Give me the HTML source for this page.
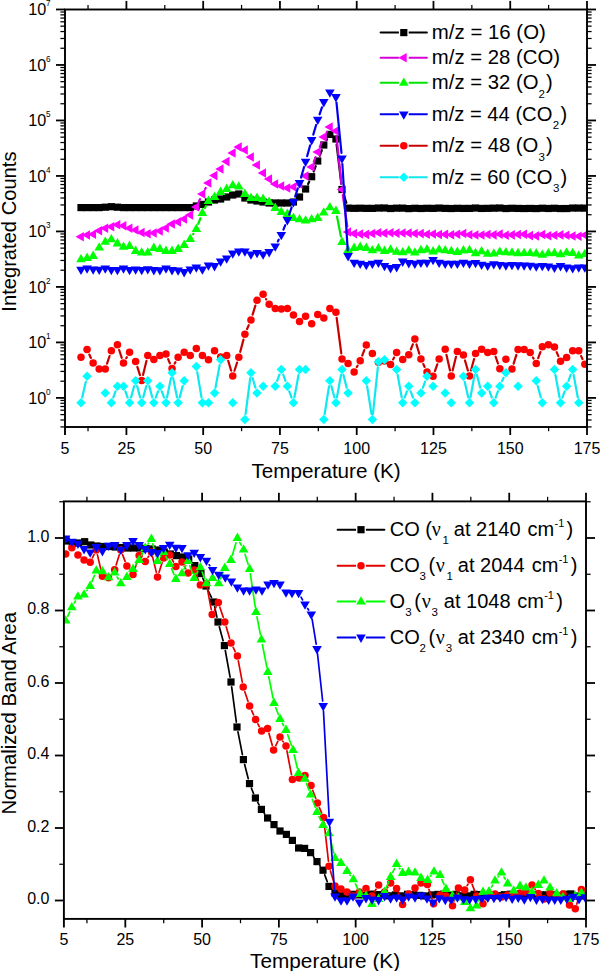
<!DOCTYPE html>
<html><head><meta charset="utf-8"><title>TPD plots</title>
<style>html,body{margin:0;padding:0;background:#fff}svg{display:block}</style>
</head><body>
<svg width="600" height="971" viewBox="0 0 600 971" font-family='"Liberation Sans", sans-serif' fill="#000">
<rect width="600" height="971" fill="#fff"/>
<defs>
<clipPath id="c1"><rect x="65.0" y="9.5" width="522.0" height="417.5"/></clipPath>
<clipPath id="c2"><rect x="63.9" y="501.4" width="522.1" height="417.5"/></clipPath>
</defs>
<g clip-path="url(#c1)">
<path d="M308.07 183.98L309.18 181.72M313.68 171.48L315.71 166.22M319.72 155.76L321.81 150.24M326.58 140.14L327.09 139.26M336.61 144.56L341.34 183.94M343.74 194.82L346.35 202.82" stroke="#000000" stroke-width="2.2" fill="none" stroke-linecap="round"/>
<rect x="77.40" y="204.00" width="7.20" height="7.20" fill="#000000"/>
<rect x="83.47" y="204.00" width="7.20" height="7.20" fill="#000000"/>
<rect x="89.54" y="204.00" width="7.20" height="7.20" fill="#000000"/>
<rect x="95.61" y="204.00" width="7.20" height="7.20" fill="#000000"/>
<rect x="101.68" y="203.60" width="7.20" height="7.20" fill="#000000"/>
<rect x="107.75" y="203.10" width="7.20" height="7.20" fill="#000000"/>
<rect x="113.82" y="203.60" width="7.20" height="7.20" fill="#000000"/>
<rect x="119.89" y="204.00" width="7.20" height="7.20" fill="#000000"/>
<rect x="125.96" y="204.00" width="7.20" height="7.20" fill="#000000"/>
<rect x="132.03" y="204.00" width="7.20" height="7.20" fill="#000000"/>
<rect x="138.10" y="204.00" width="7.20" height="7.20" fill="#000000"/>
<rect x="144.17" y="204.00" width="7.20" height="7.20" fill="#000000"/>
<rect x="150.24" y="204.00" width="7.20" height="7.20" fill="#000000"/>
<rect x="156.31" y="204.00" width="7.20" height="7.20" fill="#000000"/>
<rect x="162.38" y="204.00" width="7.20" height="7.20" fill="#000000"/>
<rect x="168.45" y="204.00" width="7.20" height="7.20" fill="#000000"/>
<rect x="174.52" y="204.00" width="7.20" height="7.20" fill="#000000"/>
<rect x="180.59" y="204.00" width="7.20" height="7.20" fill="#000000"/>
<rect x="186.66" y="204.00" width="7.20" height="7.20" fill="#000000"/>
<rect x="192.73" y="202.40" width="7.20" height="7.20" fill="#000000"/>
<rect x="198.80" y="200.80" width="7.20" height="7.20" fill="#000000"/>
<rect x="204.87" y="198.40" width="7.20" height="7.20" fill="#000000"/>
<rect x="210.94" y="196.40" width="7.20" height="7.20" fill="#000000"/>
<rect x="217.01" y="195.40" width="7.20" height="7.20" fill="#000000"/>
<rect x="223.08" y="193.40" width="7.20" height="7.20" fill="#000000"/>
<rect x="229.15" y="191.40" width="7.20" height="7.20" fill="#000000"/>
<rect x="235.22" y="190.40" width="7.20" height="7.20" fill="#000000"/>
<rect x="241.29" y="194.40" width="7.20" height="7.20" fill="#000000"/>
<rect x="247.36" y="196.40" width="7.20" height="7.20" fill="#000000"/>
<rect x="253.43" y="197.40" width="7.20" height="7.20" fill="#000000"/>
<rect x="259.50" y="198.40" width="7.20" height="7.20" fill="#000000"/>
<rect x="265.57" y="199.40" width="7.20" height="7.20" fill="#000000"/>
<rect x="271.64" y="199.40" width="7.20" height="7.20" fill="#000000"/>
<rect x="277.71" y="199.40" width="7.20" height="7.20" fill="#000000"/>
<rect x="283.78" y="199.40" width="7.20" height="7.20" fill="#000000"/>
<rect x="289.85" y="198.40" width="7.20" height="7.20" fill="#000000"/>
<rect x="295.92" y="193.40" width="7.20" height="7.20" fill="#000000"/>
<rect x="301.99" y="185.40" width="7.20" height="7.20" fill="#000000"/>
<rect x="308.06" y="173.10" width="7.20" height="7.20" fill="#000000"/>
<rect x="314.13" y="157.40" width="7.20" height="7.20" fill="#000000"/>
<rect x="320.20" y="141.40" width="7.20" height="7.20" fill="#000000"/>
<rect x="326.27" y="130.80" width="7.20" height="7.20" fill="#000000"/>
<rect x="332.34" y="135.40" width="7.20" height="7.20" fill="#000000"/>
<rect x="338.41" y="185.90" width="7.20" height="7.20" fill="#000000"/>
<rect x="344.48" y="204.54" width="7.20" height="7.20" fill="#000000"/>
<rect x="350.55" y="204.73" width="7.20" height="7.20" fill="#000000"/>
<rect x="356.62" y="204.62" width="7.20" height="7.20" fill="#000000"/>
<rect x="362.69" y="204.76" width="7.20" height="7.20" fill="#000000"/>
<rect x="368.76" y="204.78" width="7.20" height="7.20" fill="#000000"/>
<rect x="374.83" y="204.44" width="7.20" height="7.20" fill="#000000"/>
<rect x="380.90" y="204.41" width="7.20" height="7.20" fill="#000000"/>
<rect x="386.97" y="204.90" width="7.20" height="7.20" fill="#000000"/>
<rect x="393.04" y="204.56" width="7.20" height="7.20" fill="#000000"/>
<rect x="399.11" y="204.54" width="7.20" height="7.20" fill="#000000"/>
<rect x="405.18" y="205.00" width="7.20" height="7.20" fill="#000000"/>
<rect x="411.25" y="204.68" width="7.20" height="7.20" fill="#000000"/>
<rect x="417.32" y="204.90" width="7.20" height="7.20" fill="#000000"/>
<rect x="423.39" y="204.69" width="7.20" height="7.20" fill="#000000"/>
<rect x="429.46" y="204.78" width="7.20" height="7.20" fill="#000000"/>
<rect x="435.53" y="204.49" width="7.20" height="7.20" fill="#000000"/>
<rect x="441.60" y="204.78" width="7.20" height="7.20" fill="#000000"/>
<rect x="447.67" y="204.92" width="7.20" height="7.20" fill="#000000"/>
<rect x="453.74" y="204.71" width="7.20" height="7.20" fill="#000000"/>
<rect x="459.81" y="204.84" width="7.20" height="7.20" fill="#000000"/>
<rect x="465.88" y="204.80" width="7.20" height="7.20" fill="#000000"/>
<rect x="471.95" y="204.44" width="7.20" height="7.20" fill="#000000"/>
<rect x="478.02" y="204.85" width="7.20" height="7.20" fill="#000000"/>
<rect x="484.09" y="204.75" width="7.20" height="7.20" fill="#000000"/>
<rect x="490.16" y="204.58" width="7.20" height="7.20" fill="#000000"/>
<rect x="496.23" y="204.42" width="7.20" height="7.20" fill="#000000"/>
<rect x="502.30" y="204.92" width="7.20" height="7.20" fill="#000000"/>
<rect x="508.37" y="204.68" width="7.20" height="7.20" fill="#000000"/>
<rect x="514.44" y="204.83" width="7.20" height="7.20" fill="#000000"/>
<rect x="520.51" y="204.93" width="7.20" height="7.20" fill="#000000"/>
<rect x="526.58" y="204.83" width="7.20" height="7.20" fill="#000000"/>
<rect x="532.65" y="204.95" width="7.20" height="7.20" fill="#000000"/>
<rect x="538.72" y="204.64" width="7.20" height="7.20" fill="#000000"/>
<rect x="544.79" y="204.88" width="7.20" height="7.20" fill="#000000"/>
<rect x="550.86" y="204.67" width="7.20" height="7.20" fill="#000000"/>
<rect x="556.93" y="204.96" width="7.20" height="7.20" fill="#000000"/>
<rect x="563.00" y="204.93" width="7.20" height="7.20" fill="#000000"/>
<rect x="569.07" y="204.46" width="7.20" height="7.20" fill="#000000"/>
<rect x="575.14" y="204.48" width="7.20" height="7.20" fill="#000000"/>
<rect x="581.21" y="204.53" width="7.20" height="7.20" fill="#000000"/>
<path d="M198.70 201.93L200.03 199.07M205.11 189.10L205.76 187.90M313.76 161.81L315.63 157.19M319.83 146.81L321.70 142.19M326.71 132.21L326.96 131.79M336.52 136.57L341.43 183.93M342.80 195.04L347.29 226.46" stroke="#d800d8" stroke-width="2.2" fill="none" stroke-linecap="round"/>
<polygon points="83.90,231.90 83.90,241.50 75.60,236.70" fill="#ff00ff"/>
<polygon points="89.97,230.20 89.97,239.80 81.67,235.00" fill="#ff00ff"/>
<polygon points="96.04,229.40 96.04,239.00 87.74,234.20" fill="#ff00ff"/>
<polygon points="102.11,226.00 102.11,235.60 93.81,230.80" fill="#ff00ff"/>
<polygon points="108.18,223.50 108.18,233.10 99.88,228.30" fill="#ff00ff"/>
<polygon points="114.25,221.90 114.25,231.50 105.95,226.70" fill="#ff00ff"/>
<polygon points="120.32,219.90 120.32,229.50 112.02,224.70" fill="#ff00ff"/>
<polygon points="126.39,221.00 126.39,230.60 118.09,225.80" fill="#ff00ff"/>
<polygon points="132.46,223.50 132.46,233.10 124.16,228.30" fill="#ff00ff"/>
<polygon points="138.53,225.20 138.53,234.80 130.23,230.00" fill="#ff00ff"/>
<polygon points="144.60,227.70 144.60,237.30 136.30,232.50" fill="#ff00ff"/>
<polygon points="150.67,228.90 150.67,238.50 142.37,233.70" fill="#ff00ff"/>
<polygon points="156.74,228.20 156.74,237.80 148.44,233.00" fill="#ff00ff"/>
<polygon points="162.81,226.20 162.81,235.80 154.51,231.00" fill="#ff00ff"/>
<polygon points="168.88,223.20 168.88,232.80 160.58,228.00" fill="#ff00ff"/>
<polygon points="174.95,219.20 174.95,228.80 166.65,224.00" fill="#ff00ff"/>
<polygon points="181.02,217.20 181.02,226.80 172.72,222.00" fill="#ff00ff"/>
<polygon points="187.09,214.20 187.09,223.80 178.79,219.00" fill="#ff00ff"/>
<polygon points="193.16,210.20 193.16,219.80 184.86,215.00" fill="#ff00ff"/>
<polygon points="199.23,202.20 199.23,211.80 190.93,207.00" fill="#ff00ff"/>
<polygon points="205.30,189.20 205.30,198.80 197.00,194.00" fill="#ff00ff"/>
<polygon points="211.37,178.20 211.37,187.80 203.07,183.00" fill="#ff00ff"/>
<polygon points="217.44,170.80 217.44,180.40 209.14,175.60" fill="#ff00ff"/>
<polygon points="223.51,164.20 223.51,173.80 215.21,169.00" fill="#ff00ff"/>
<polygon points="229.58,156.80 229.58,166.40 221.28,161.60" fill="#ff00ff"/>
<polygon points="235.65,148.20 235.65,157.80 227.35,153.00" fill="#ff00ff"/>
<polygon points="241.72,142.20 241.72,151.80 233.42,147.00" fill="#ff00ff"/>
<polygon points="247.79,145.20 247.79,154.80 239.49,150.00" fill="#ff00ff"/>
<polygon points="253.86,152.20 253.86,161.80 245.56,157.00" fill="#ff00ff"/>
<polygon points="259.93,160.20 259.93,169.80 251.63,165.00" fill="#ff00ff"/>
<polygon points="266.00,168.20 266.00,177.80 257.70,173.00" fill="#ff00ff"/>
<polygon points="272.07,174.20 272.07,183.80 263.77,179.00" fill="#ff00ff"/>
<polygon points="278.14,179.20 278.14,188.80 269.84,184.00" fill="#ff00ff"/>
<polygon points="284.21,181.20 284.21,190.80 275.91,186.00" fill="#ff00ff"/>
<polygon points="290.28,183.20 290.28,192.80 281.98,188.00" fill="#ff00ff"/>
<polygon points="296.35,182.20 296.35,191.80 288.05,187.00" fill="#ff00ff"/>
<polygon points="302.42,179.20 302.42,188.80 294.12,184.00" fill="#ff00ff"/>
<polygon points="308.49,171.20 308.49,180.80 300.19,176.00" fill="#ff00ff"/>
<polygon points="314.56,162.20 314.56,171.80 306.26,167.00" fill="#ff00ff"/>
<polygon points="320.63,147.20 320.63,156.80 312.33,152.00" fill="#ff00ff"/>
<polygon points="326.70,132.20 326.70,141.80 318.40,137.00" fill="#ff00ff"/>
<polygon points="332.77,122.20 332.77,131.80 324.47,127.00" fill="#ff00ff"/>
<polygon points="338.84,126.20 338.84,135.80 330.54,131.00" fill="#ff00ff"/>
<polygon points="344.91,184.70 344.91,194.30 336.61,189.50" fill="#ff00ff"/>
<polygon points="350.98,227.20 350.98,236.80 342.68,232.00" fill="#ff00ff"/>
<polygon points="357.05,228.80 357.05,238.40 348.75,233.60" fill="#ff00ff"/>
<polygon points="363.12,229.20 363.12,238.80 354.82,234.00" fill="#ff00ff"/>
<polygon points="369.19,229.60 369.19,239.20 360.89,234.40" fill="#ff00ff"/>
<polygon points="375.26,228.74 375.26,238.34 366.96,233.54" fill="#ff00ff"/>
<polygon points="381.33,227.98 381.33,237.58 373.03,232.78" fill="#ff00ff"/>
<polygon points="387.40,228.37 387.40,237.97 379.10,233.17" fill="#ff00ff"/>
<polygon points="393.47,227.94 393.47,237.54 385.17,232.74" fill="#ff00ff"/>
<polygon points="399.54,228.35 399.54,237.95 391.24,233.15" fill="#ff00ff"/>
<polygon points="405.61,228.25 405.61,237.85 397.31,233.05" fill="#ff00ff"/>
<polygon points="411.68,228.28 411.68,237.88 403.38,233.08" fill="#ff00ff"/>
<polygon points="417.75,228.74 417.75,238.34 409.45,233.54" fill="#ff00ff"/>
<polygon points="423.82,228.82 423.82,238.42 415.52,233.62" fill="#ff00ff"/>
<polygon points="429.89,229.42 429.89,239.02 421.59,234.22" fill="#ff00ff"/>
<polygon points="435.96,229.15 435.96,238.75 427.66,233.95" fill="#ff00ff"/>
<polygon points="442.03,229.63 442.03,239.23 433.73,234.43" fill="#ff00ff"/>
<polygon points="448.10,229.60 448.10,239.20 439.80,234.40" fill="#ff00ff"/>
<polygon points="454.17,229.90 454.17,239.50 445.87,234.70" fill="#ff00ff"/>
<polygon points="460.24,229.47 460.24,239.07 451.94,234.27" fill="#ff00ff"/>
<polygon points="466.31,228.75 466.31,238.35 458.01,233.55" fill="#ff00ff"/>
<polygon points="472.38,229.95 472.38,239.55 464.08,234.75" fill="#ff00ff"/>
<polygon points="478.45,230.20 478.45,239.80 470.15,235.00" fill="#ff00ff"/>
<polygon points="484.52,230.19 484.52,239.79 476.22,234.99" fill="#ff00ff"/>
<polygon points="490.59,229.74 490.59,239.34 482.29,234.54" fill="#ff00ff"/>
<polygon points="496.66,230.06 496.66,239.66 488.36,234.86" fill="#ff00ff"/>
<polygon points="502.73,229.34 502.73,238.94 494.43,234.14" fill="#ff00ff"/>
<polygon points="508.80,230.42 508.80,240.02 500.50,235.22" fill="#ff00ff"/>
<polygon points="514.87,230.09 514.87,239.69 506.57,234.89" fill="#ff00ff"/>
<polygon points="520.94,229.71 520.94,239.31 512.64,234.51" fill="#ff00ff"/>
<polygon points="527.01,229.44 527.01,239.04 518.71,234.24" fill="#ff00ff"/>
<polygon points="533.08,230.79 533.08,240.39 524.78,235.59" fill="#ff00ff"/>
<polygon points="539.15,231.10 539.15,240.70 530.85,235.90" fill="#ff00ff"/>
<polygon points="545.22,229.74 545.22,239.34 536.92,234.54" fill="#ff00ff"/>
<polygon points="551.29,230.97 551.29,240.57 542.99,235.77" fill="#ff00ff"/>
<polygon points="557.36,230.43 557.36,240.03 549.06,235.23" fill="#ff00ff"/>
<polygon points="563.43,230.10 563.43,239.70 555.13,234.90" fill="#ff00ff"/>
<polygon points="569.50,230.41 569.50,240.01 561.20,235.21" fill="#ff00ff"/>
<polygon points="575.57,231.26 575.57,240.86 567.27,236.06" fill="#ff00ff"/>
<polygon points="581.64,231.51 581.64,241.11 573.34,236.31" fill="#ff00ff"/>
<polygon points="587.71,230.27 587.71,239.87 579.41,235.07" fill="#ff00ff"/>
<path d="M193.17 234.21L193.42 233.79M198.32 223.76L200.41 218.24M204.93 208.00L205.94 206.00M337.02 216.50L340.93 236.50" stroke="#00e600" stroke-width="2.2" fill="none" stroke-linecap="round"/>
<polygon points="76.20,262.20 85.80,262.20 81.00,253.90" fill="#00ff00"/>
<polygon points="82.27,260.90 91.87,260.90 87.07,252.60" fill="#00ff00"/>
<polygon points="88.34,258.90 97.94,258.90 93.14,250.60" fill="#00ff00"/>
<polygon points="94.41,250.60 104.01,250.60 99.21,242.30" fill="#00ff00"/>
<polygon points="100.48,244.70 110.08,244.70 105.28,236.40" fill="#00ff00"/>
<polygon points="106.55,242.20 116.15,242.20 111.35,233.90" fill="#00ff00"/>
<polygon points="112.62,246.40 122.22,246.40 117.42,238.10" fill="#00ff00"/>
<polygon points="118.69,249.70 128.29,249.70 123.49,241.40" fill="#00ff00"/>
<polygon points="124.76,248.90 134.36,248.90 129.56,240.60" fill="#00ff00"/>
<polygon points="130.83,253.90 140.43,253.90 135.63,245.60" fill="#00ff00"/>
<polygon points="136.90,255.60 146.50,255.60 141.70,247.30" fill="#00ff00"/>
<polygon points="142.97,255.60 152.57,255.60 147.77,247.30" fill="#00ff00"/>
<polygon points="149.04,250.90 158.64,250.90 153.84,242.60" fill="#00ff00"/>
<polygon points="155.11,251.90 164.71,251.90 159.91,243.60" fill="#00ff00"/>
<polygon points="161.18,253.90 170.78,253.90 165.98,245.60" fill="#00ff00"/>
<polygon points="167.25,253.90 176.85,253.90 172.05,245.60" fill="#00ff00"/>
<polygon points="173.32,251.90 182.92,251.90 178.12,243.60" fill="#00ff00"/>
<polygon points="179.39,247.90 188.99,247.90 184.19,239.60" fill="#00ff00"/>
<polygon points="185.46,241.90 195.06,241.90 190.26,233.60" fill="#00ff00"/>
<polygon points="191.53,231.90 201.13,231.90 196.33,223.60" fill="#00ff00"/>
<polygon points="197.60,215.90 207.20,215.90 202.40,207.60" fill="#00ff00"/>
<polygon points="203.67,203.90 213.27,203.90 208.47,195.60" fill="#00ff00"/>
<polygon points="209.74,199.90 219.34,199.90 214.54,191.60" fill="#00ff00"/>
<polygon points="215.81,194.90 225.41,194.90 220.61,186.60" fill="#00ff00"/>
<polygon points="221.88,191.90 231.48,191.90 226.68,183.60" fill="#00ff00"/>
<polygon points="227.95,188.30 237.55,188.30 232.75,180.00" fill="#00ff00"/>
<polygon points="234.02,189.50 243.62,189.50 238.82,181.20" fill="#00ff00"/>
<polygon points="240.09,196.90 249.69,196.90 244.89,188.60" fill="#00ff00"/>
<polygon points="246.16,200.90 255.76,200.90 250.96,192.60" fill="#00ff00"/>
<polygon points="252.23,200.90 261.83,200.90 257.03,192.60" fill="#00ff00"/>
<polygon points="258.30,201.90 267.90,201.90 263.10,193.60" fill="#00ff00"/>
<polygon points="264.37,204.90 273.97,204.90 269.17,196.60" fill="#00ff00"/>
<polygon points="270.44,210.90 280.04,210.90 275.24,202.60" fill="#00ff00"/>
<polygon points="276.51,214.90 286.11,214.90 281.31,206.60" fill="#00ff00"/>
<polygon points="282.58,216.90 292.18,216.90 287.38,208.60" fill="#00ff00"/>
<polygon points="288.65,220.90 298.25,220.90 293.45,212.60" fill="#00ff00"/>
<polygon points="294.72,222.30 304.32,222.30 299.52,214.00" fill="#00ff00"/>
<polygon points="300.79,223.50 310.39,223.50 305.59,215.20" fill="#00ff00"/>
<polygon points="306.86,222.30 316.46,222.30 311.66,214.00" fill="#00ff00"/>
<polygon points="312.93,220.90 322.53,220.90 317.73,212.60" fill="#00ff00"/>
<polygon points="319.00,215.50 328.60,215.50 323.80,207.20" fill="#00ff00"/>
<polygon points="325.07,210.30 334.67,210.30 329.87,202.00" fill="#00ff00"/>
<polygon points="331.14,213.90 340.74,213.90 335.94,205.60" fill="#00ff00"/>
<polygon points="337.21,244.90 346.81,244.90 342.01,236.60" fill="#00ff00"/>
<polygon points="343.28,252.90 352.88,252.90 348.08,244.60" fill="#00ff00"/>
<polygon points="349.35,250.90 358.95,250.90 354.15,242.60" fill="#00ff00"/>
<polygon points="355.42,249.90 365.02,249.90 360.22,241.60" fill="#00ff00"/>
<polygon points="361.49,250.90 371.09,250.90 366.29,242.60" fill="#00ff00"/>
<polygon points="367.56,253.31 377.16,253.31 372.36,245.01" fill="#00ff00"/>
<polygon points="373.63,251.38 383.23,251.38 378.43,243.08" fill="#00ff00"/>
<polygon points="379.70,253.91 389.30,253.91 384.50,245.61" fill="#00ff00"/>
<polygon points="385.77,252.63 395.37,252.63 390.57,244.33" fill="#00ff00"/>
<polygon points="391.84,254.73 401.44,254.73 396.64,246.43" fill="#00ff00"/>
<polygon points="397.91,255.20 407.51,255.20 402.71,246.90" fill="#00ff00"/>
<polygon points="403.98,253.61 413.58,253.61 408.78,245.31" fill="#00ff00"/>
<polygon points="410.05,255.49 419.65,255.49 414.85,247.19" fill="#00ff00"/>
<polygon points="416.12,253.13 425.72,253.13 420.92,244.83" fill="#00ff00"/>
<polygon points="422.19,252.41 431.79,252.41 426.99,244.11" fill="#00ff00"/>
<polygon points="428.26,254.40 437.86,254.40 433.06,246.10" fill="#00ff00"/>
<polygon points="434.33,252.47 443.93,252.47 439.13,244.17" fill="#00ff00"/>
<polygon points="440.40,253.18 450.00,253.18 445.20,244.88" fill="#00ff00"/>
<polygon points="446.47,254.05 456.07,254.05 451.27,245.75" fill="#00ff00"/>
<polygon points="452.54,254.90 462.14,254.90 457.34,246.60" fill="#00ff00"/>
<polygon points="458.61,253.38 468.21,253.38 463.41,245.08" fill="#00ff00"/>
<polygon points="464.68,253.08 474.28,253.08 469.48,244.78" fill="#00ff00"/>
<polygon points="470.75,256.17 480.35,256.17 475.55,247.87" fill="#00ff00"/>
<polygon points="476.82,254.29 486.42,254.29 481.62,245.99" fill="#00ff00"/>
<polygon points="482.89,256.72 492.49,256.72 487.69,248.42" fill="#00ff00"/>
<polygon points="488.96,256.61 498.56,256.61 493.76,248.31" fill="#00ff00"/>
<polygon points="495.03,254.86 504.63,254.86 499.83,246.56" fill="#00ff00"/>
<polygon points="501.10,255.27 510.70,255.27 505.90,246.97" fill="#00ff00"/>
<polygon points="507.17,255.60 516.77,255.60 511.97,247.30" fill="#00ff00"/>
<polygon points="513.24,256.16 522.84,256.16 518.04,247.86" fill="#00ff00"/>
<polygon points="519.31,256.10 528.91,256.10 524.11,247.80" fill="#00ff00"/>
<polygon points="525.38,256.08 534.98,256.08 530.18,247.78" fill="#00ff00"/>
<polygon points="531.45,256.42 541.05,256.42 536.25,248.12" fill="#00ff00"/>
<polygon points="537.52,257.69 547.12,257.69 542.32,249.39" fill="#00ff00"/>
<polygon points="543.59,256.24 553.19,256.24 548.39,247.94" fill="#00ff00"/>
<polygon points="549.66,256.08 559.26,256.08 554.46,247.78" fill="#00ff00"/>
<polygon points="555.73,257.24 565.33,257.24 560.53,248.94" fill="#00ff00"/>
<polygon points="561.80,255.61 571.40,255.61 566.60,247.31" fill="#00ff00"/>
<polygon points="567.87,255.96 577.47,255.96 572.67,247.66" fill="#00ff00"/>
<polygon points="573.94,258.51 583.54,258.51 578.74,250.21" fill="#00ff00"/>
<polygon points="580.01,256.98 589.61,256.98 584.81,248.68" fill="#00ff00"/>
<path d="M277.84 241.44L278.71 239.76M283.43 229.62L285.26 225.18M289.17 214.69L291.66 207.31M295.15 196.67L297.82 188.33M301.05 177.61L304.06 166.99M307.11 156.21L310.14 145.39M313.26 134.63L316.13 124.97M319.56 114.31L321.97 107.29M336.49 102.57L341.46 152.83M342.36 163.99L347.73 250.41" stroke="#0000ee" stroke-width="2.2" fill="none" stroke-linecap="round"/>
<polygon points="76.20,266.72 85.80,266.72 81.00,275.02" fill="#0000ff"/>
<polygon points="82.27,265.43 91.87,265.43 87.07,273.73" fill="#0000ff"/>
<polygon points="88.34,266.40 97.94,266.40 93.14,274.70" fill="#0000ff"/>
<polygon points="94.41,266.79 104.01,266.79 99.21,275.09" fill="#0000ff"/>
<polygon points="100.48,265.45 110.08,265.45 105.28,273.75" fill="#0000ff"/>
<polygon points="106.55,266.88 116.15,266.88 111.35,275.18" fill="#0000ff"/>
<polygon points="112.62,266.92 122.22,266.92 117.42,275.22" fill="#0000ff"/>
<polygon points="118.69,265.54 128.29,265.54 123.49,273.84" fill="#0000ff"/>
<polygon points="124.76,266.91 134.36,266.91 129.56,275.21" fill="#0000ff"/>
<polygon points="130.83,266.52 140.43,266.52 135.63,274.82" fill="#0000ff"/>
<polygon points="136.90,267.03 146.50,267.03 141.70,275.33" fill="#0000ff"/>
<polygon points="142.97,266.25 152.57,266.25 147.77,274.55" fill="#0000ff"/>
<polygon points="149.04,267.10 158.64,267.10 153.84,275.40" fill="#0000ff"/>
<polygon points="155.11,267.17 164.71,267.17 159.91,275.47" fill="#0000ff"/>
<polygon points="161.18,265.45 170.78,265.45 165.98,273.75" fill="#0000ff"/>
<polygon points="167.25,267.10 176.85,267.10 172.05,275.40" fill="#0000ff"/>
<polygon points="173.32,267.50 182.92,267.50 178.12,275.80" fill="#0000ff"/>
<polygon points="179.39,269.10 188.99,269.10 184.19,277.40" fill="#0000ff"/>
<polygon points="185.46,266.50 195.06,266.50 190.26,274.80" fill="#0000ff"/>
<polygon points="191.53,264.50 201.13,264.50 196.33,272.80" fill="#0000ff"/>
<polygon points="197.60,266.50 207.20,266.50 202.40,274.80" fill="#0000ff"/>
<polygon points="203.67,262.50 213.27,262.50 208.47,270.80" fill="#0000ff"/>
<polygon points="209.74,263.10 219.34,263.10 214.54,271.40" fill="#0000ff"/>
<polygon points="215.81,258.50 225.41,258.50 220.61,266.80" fill="#0000ff"/>
<polygon points="221.88,255.50 231.48,255.50 226.68,263.80" fill="#0000ff"/>
<polygon points="227.95,250.50 237.55,250.50 232.75,258.80" fill="#0000ff"/>
<polygon points="234.02,248.50 243.62,248.50 238.82,256.80" fill="#0000ff"/>
<polygon points="240.09,248.50 249.69,248.50 244.89,256.80" fill="#0000ff"/>
<polygon points="246.16,251.50 255.76,251.50 250.96,259.80" fill="#0000ff"/>
<polygon points="252.23,249.90 261.83,249.90 257.03,258.20" fill="#0000ff"/>
<polygon points="258.30,251.50 267.90,251.50 263.10,259.80" fill="#0000ff"/>
<polygon points="264.37,249.10 273.97,249.10 269.17,257.40" fill="#0000ff"/>
<polygon points="270.44,243.50 280.04,243.50 275.24,251.80" fill="#0000ff"/>
<polygon points="276.51,231.90 286.11,231.90 281.31,240.20" fill="#0000ff"/>
<polygon points="282.58,217.10 292.18,217.10 287.38,225.40" fill="#0000ff"/>
<polygon points="288.65,199.10 298.25,199.10 293.45,207.40" fill="#0000ff"/>
<polygon points="294.72,180.10 304.32,180.10 299.52,188.40" fill="#0000ff"/>
<polygon points="300.79,158.70 310.39,158.70 305.59,167.00" fill="#0000ff"/>
<polygon points="306.86,137.10 316.46,137.10 311.66,145.40" fill="#0000ff"/>
<polygon points="312.93,116.70 322.53,116.70 317.73,125.00" fill="#0000ff"/>
<polygon points="319.00,99.10 328.60,99.10 323.80,107.40" fill="#0000ff"/>
<polygon points="325.07,89.50 334.67,89.50 329.87,97.80" fill="#0000ff"/>
<polygon points="331.14,94.10 340.74,94.10 335.94,102.40" fill="#0000ff"/>
<polygon points="337.21,155.50 346.81,155.50 342.01,163.80" fill="#0000ff"/>
<polygon points="343.28,253.10 352.88,253.10 348.08,261.40" fill="#0000ff"/>
<polygon points="349.35,259.70 358.95,259.70 354.15,268.00" fill="#0000ff"/>
<polygon points="355.42,260.80 365.02,260.80 360.22,269.10" fill="#0000ff"/>
<polygon points="361.49,261.90 371.09,261.90 366.29,270.20" fill="#0000ff"/>
<polygon points="367.56,260.80 377.16,260.80 372.36,269.10" fill="#0000ff"/>
<polygon points="373.63,259.70 383.23,259.70 378.43,268.00" fill="#0000ff"/>
<polygon points="379.70,262.90 389.30,262.90 384.50,271.20" fill="#0000ff"/>
<polygon points="385.77,265.10 395.37,265.10 390.57,273.40" fill="#0000ff"/>
<polygon points="391.84,264.10 401.44,264.10 396.64,272.40" fill="#0000ff"/>
<polygon points="397.91,258.60 407.51,258.60 402.71,266.90" fill="#0000ff"/>
<polygon points="403.98,260.10 413.58,260.10 408.78,268.40" fill="#0000ff"/>
<polygon points="410.05,260.80 419.65,260.80 414.85,269.10" fill="#0000ff"/>
<polygon points="416.12,259.70 425.72,259.70 420.92,268.00" fill="#0000ff"/>
<polygon points="422.19,259.70 431.79,259.70 426.99,268.00" fill="#0000ff"/>
<polygon points="428.26,256.90 437.86,256.90 433.06,265.20" fill="#0000ff"/>
<polygon points="434.33,259.70 443.93,259.70 439.13,268.00" fill="#0000ff"/>
<polygon points="440.40,260.80 450.00,260.80 445.20,269.10" fill="#0000ff"/>
<polygon points="446.47,260.80 456.07,260.80 451.27,269.10" fill="#0000ff"/>
<polygon points="452.54,260.80 462.14,260.80 457.34,269.10" fill="#0000ff"/>
<polygon points="458.61,259.70 468.21,259.70 463.41,268.00" fill="#0000ff"/>
<polygon points="464.68,260.80 474.28,260.80 469.48,269.10" fill="#0000ff"/>
<polygon points="470.75,260.05 480.35,260.05 475.55,268.35" fill="#0000ff"/>
<polygon points="476.82,261.74 486.42,261.74 481.62,270.04" fill="#0000ff"/>
<polygon points="482.89,262.66 492.49,262.66 487.69,270.96" fill="#0000ff"/>
<polygon points="488.96,261.17 498.56,261.17 493.76,269.47" fill="#0000ff"/>
<polygon points="495.03,261.88 504.63,261.88 499.83,270.18" fill="#0000ff"/>
<polygon points="501.10,262.43 510.70,262.43 505.90,270.73" fill="#0000ff"/>
<polygon points="507.17,262.00 516.77,262.00 511.97,270.30" fill="#0000ff"/>
<polygon points="513.24,262.33 522.84,262.33 518.04,270.63" fill="#0000ff"/>
<polygon points="519.31,262.43 528.91,262.43 524.11,270.73" fill="#0000ff"/>
<polygon points="525.38,262.79 534.98,262.79 530.18,271.09" fill="#0000ff"/>
<polygon points="531.45,263.55 541.05,263.55 536.25,271.85" fill="#0000ff"/>
<polygon points="537.52,263.07 547.12,263.07 542.32,271.37" fill="#0000ff"/>
<polygon points="543.59,263.47 553.19,263.47 548.39,271.77" fill="#0000ff"/>
<polygon points="549.66,264.64 559.26,264.64 554.46,272.94" fill="#0000ff"/>
<polygon points="555.73,263.08 565.33,263.08 560.53,271.38" fill="#0000ff"/>
<polygon points="561.80,264.60 571.40,264.60 566.60,272.90" fill="#0000ff"/>
<polygon points="567.87,265.22 577.47,265.22 572.67,273.52" fill="#0000ff"/>
<polygon points="573.94,264.42 583.54,264.42 578.74,272.72" fill="#0000ff"/>
<polygon points="580.01,264.43 589.61,264.43 584.81,272.73" fill="#0000ff"/>
<path d="M89.34 354.52L90.87 357.98M107.05 363.59L109.58 356.01M119.17 350.02L121.74 357.78M126.23 358.22L126.82 357.18M137.35 366.93L139.98 375.07M143.03 374.96L146.44 360.94M168.14 359.17L169.89 363.33M174.70 363.57L175.47 362.13M228.26 360.87L231.17 370.73M234.46 370.77L237.11 362.53M240.25 351.79L243.46 339.61M247.09 329.05L248.76 325.15M252.61 314.65L255.38 305.65M266.03 299.07L266.24 299.43M336.66 317.85L341.29 353.35M356.82 367.08L357.55 365.72M362.22 355.57L364.29 350.13M393.11 359.41L394.10 357.49M410.81 349.48L412.82 344.32M416.48 344.46L419.29 353.64M423.29 364.07L424.62 366.93M434.91 371.02L437.28 364.28M446.45 354.76L450.02 370.44M452.62 370.46L455.99 356.84M464.98 360.48L467.91 370.52M470.95 370.50L474.08 359.00M495.60 356.69L497.99 363.51M513.64 363.66L516.37 354.94M532.89 357.40L533.54 358.60M538.16 358.24L540.41 352.06M556.65 352.15L558.34 356.15M581.05 355.90L582.50 359.10" stroke="#c80000" stroke-width="2.2" fill="none" stroke-linecap="round"/>
<circle cx="81.00" cy="357.20" r="3.75" fill="#ff0000"/>
<circle cx="87.07" cy="349.40" r="3.75" fill="#ff0000"/>
<circle cx="93.14" cy="363.10" r="3.75" fill="#ff0000"/>
<circle cx="99.21" cy="368.90" r="3.75" fill="#ff0000"/>
<circle cx="105.28" cy="368.90" r="3.75" fill="#ff0000"/>
<circle cx="111.35" cy="350.70" r="3.75" fill="#ff0000"/>
<circle cx="117.42" cy="344.70" r="3.75" fill="#ff0000"/>
<circle cx="123.49" cy="363.10" r="3.75" fill="#ff0000"/>
<circle cx="129.56" cy="352.30" r="3.75" fill="#ff0000"/>
<circle cx="135.63" cy="361.60" r="3.75" fill="#ff0000"/>
<circle cx="141.70" cy="380.40" r="3.75" fill="#ff0000"/>
<circle cx="147.77" cy="355.50" r="3.75" fill="#ff0000"/>
<circle cx="153.84" cy="359.40" r="3.75" fill="#ff0000"/>
<circle cx="159.91" cy="355.50" r="3.75" fill="#ff0000"/>
<circle cx="165.98" cy="354.00" r="3.75" fill="#ff0000"/>
<circle cx="172.05" cy="368.50" r="3.75" fill="#ff0000"/>
<circle cx="178.12" cy="357.20" r="3.75" fill="#ff0000"/>
<circle cx="184.19" cy="352.30" r="3.75" fill="#ff0000"/>
<circle cx="190.26" cy="355.50" r="3.75" fill="#ff0000"/>
<circle cx="196.33" cy="348.60" r="3.75" fill="#ff0000"/>
<circle cx="202.40" cy="355.50" r="3.75" fill="#ff0000"/>
<circle cx="208.47" cy="359.80" r="3.75" fill="#ff0000"/>
<circle cx="214.54" cy="350.70" r="3.75" fill="#ff0000"/>
<circle cx="220.61" cy="357.00" r="3.75" fill="#ff0000"/>
<circle cx="226.68" cy="355.50" r="3.75" fill="#ff0000"/>
<circle cx="232.75" cy="376.10" r="3.75" fill="#ff0000"/>
<circle cx="238.82" cy="357.20" r="3.75" fill="#ff0000"/>
<circle cx="244.89" cy="334.20" r="3.75" fill="#ff0000"/>
<circle cx="250.96" cy="320.00" r="3.75" fill="#ff0000"/>
<circle cx="257.03" cy="300.30" r="3.75" fill="#ff0000"/>
<circle cx="263.10" cy="294.30" r="3.75" fill="#ff0000"/>
<circle cx="269.17" cy="304.20" r="3.75" fill="#ff0000"/>
<circle cx="275.24" cy="308.60" r="3.75" fill="#ff0000"/>
<circle cx="281.31" cy="309.00" r="3.75" fill="#ff0000"/>
<circle cx="287.38" cy="308.60" r="3.75" fill="#ff0000"/>
<circle cx="293.45" cy="315.10" r="3.75" fill="#ff0000"/>
<circle cx="299.52" cy="321.40" r="3.75" fill="#ff0000"/>
<circle cx="305.59" cy="316.20" r="3.75" fill="#ff0000"/>
<circle cx="311.66" cy="323.70" r="3.75" fill="#ff0000"/>
<circle cx="317.73" cy="314.40" r="3.75" fill="#ff0000"/>
<circle cx="323.80" cy="318.10" r="3.75" fill="#ff0000"/>
<circle cx="329.87" cy="308.60" r="3.75" fill="#ff0000"/>
<circle cx="335.94" cy="312.30" r="3.75" fill="#ff0000"/>
<circle cx="342.01" cy="358.90" r="3.75" fill="#ff0000"/>
<circle cx="348.08" cy="363.40" r="3.75" fill="#ff0000"/>
<circle cx="354.15" cy="372.00" r="3.75" fill="#ff0000"/>
<circle cx="360.22" cy="360.80" r="3.75" fill="#ff0000"/>
<circle cx="366.29" cy="344.90" r="3.75" fill="#ff0000"/>
<circle cx="372.36" cy="353.60" r="3.75" fill="#ff0000"/>
<circle cx="378.43" cy="362.30" r="3.75" fill="#ff0000"/>
<circle cx="384.50" cy="361.00" r="3.75" fill="#ff0000"/>
<circle cx="390.57" cy="364.40" r="3.75" fill="#ff0000"/>
<circle cx="396.64" cy="352.50" r="3.75" fill="#ff0000"/>
<circle cx="402.71" cy="359.40" r="3.75" fill="#ff0000"/>
<circle cx="408.78" cy="354.70" r="3.75" fill="#ff0000"/>
<circle cx="414.85" cy="339.10" r="3.75" fill="#ff0000"/>
<circle cx="420.92" cy="359.00" r="3.75" fill="#ff0000"/>
<circle cx="426.99" cy="372.00" r="3.75" fill="#ff0000"/>
<circle cx="433.06" cy="376.30" r="3.75" fill="#ff0000"/>
<circle cx="439.13" cy="359.00" r="3.75" fill="#ff0000"/>
<circle cx="445.20" cy="349.30" r="3.75" fill="#ff0000"/>
<circle cx="451.27" cy="375.90" r="3.75" fill="#ff0000"/>
<circle cx="457.34" cy="351.40" r="3.75" fill="#ff0000"/>
<circle cx="463.41" cy="355.10" r="3.75" fill="#ff0000"/>
<circle cx="469.48" cy="375.90" r="3.75" fill="#ff0000"/>
<circle cx="475.55" cy="353.60" r="3.75" fill="#ff0000"/>
<circle cx="481.62" cy="349.30" r="3.75" fill="#ff0000"/>
<circle cx="487.69" cy="352.50" r="3.75" fill="#ff0000"/>
<circle cx="493.76" cy="351.40" r="3.75" fill="#ff0000"/>
<circle cx="499.83" cy="368.80" r="3.75" fill="#ff0000"/>
<circle cx="505.90" cy="359.30" r="3.75" fill="#ff0000"/>
<circle cx="511.97" cy="369.00" r="3.75" fill="#ff0000"/>
<circle cx="518.04" cy="349.60" r="3.75" fill="#ff0000"/>
<circle cx="524.11" cy="349.50" r="3.75" fill="#ff0000"/>
<circle cx="530.18" cy="352.50" r="3.75" fill="#ff0000"/>
<circle cx="536.25" cy="363.50" r="3.75" fill="#ff0000"/>
<circle cx="542.32" cy="346.80" r="3.75" fill="#ff0000"/>
<circle cx="548.39" cy="344.70" r="3.75" fill="#ff0000"/>
<circle cx="554.46" cy="347.00" r="3.75" fill="#ff0000"/>
<circle cx="560.53" cy="361.30" r="3.75" fill="#ff0000"/>
<circle cx="566.60" cy="357.50" r="3.75" fill="#ff0000"/>
<circle cx="572.67" cy="350.80" r="3.75" fill="#ff0000"/>
<circle cx="578.74" cy="350.80" r="3.75" fill="#ff0000"/>
<circle cx="584.81" cy="364.20" r="3.75" fill="#ff0000"/>
<path d="M82.25 397.36L85.82 381.83M113.26 397.56L115.51 391.40M125.40 391.40L127.65 397.56M131.05 397.42L134.14 386.16M137.12 386.16L140.21 397.42M143.19 397.42L146.28 386.16M149.26 386.16L152.35 397.42M155.75 397.56L158.00 391.40M161.82 391.40L164.07 397.56M167.08 397.33L170.95 378.15M173.15 378.15L177.02 397.33M179.61 397.42L182.70 386.16M197.26 372.14L201.47 397.30M215.54 387.55L219.61 365.20M245.61 413.95L250.24 378.22M252.56 378.03L255.43 387.69M277.15 380.87L279.40 374.71M283.22 374.71L285.47 380.87M289.29 391.40L291.54 397.56M294.45 397.31L298.52 374.96M324.67 413.98L329.00 386.30M331.36 386.16L334.45 397.42M336.94 397.31L341.01 374.96M343.40 374.87L346.69 387.64M367.16 386.30L371.49 413.98M372.95 413.94L377.84 367.35M397.64 374.96L401.71 397.31M404.62 397.56L406.87 391.40M410.69 391.40L412.94 397.56M422.83 387.80L425.08 381.64M464.66 381.83L468.23 397.36M470.48 397.31L474.55 374.96M476.94 374.87L480.23 387.64M489.60 391.40L491.85 397.56M495.67 397.56L497.92 391.40M502.13 381.03L503.60 377.77M537.74 386.16L540.83 397.42M555.46 374.96L559.53 397.31M562.44 397.56L564.69 391.40M568.51 380.87L570.76 374.71M573.67 374.96L577.74 397.31" stroke="#10e8f0" stroke-width="2.2" fill="none" stroke-linecap="round"/>
<polygon points="76.25,402.82 81.00,398.07 85.75,402.82 81.00,407.57" fill="#00ffff"/>
<polygon points="82.32,376.37 87.07,371.62 91.82,376.37 87.07,381.12" fill="#00ffff"/>
<polygon points="100.53,393.06 105.28,388.31 110.03,393.06 105.28,397.81" fill="#00ffff"/>
<polygon points="106.60,402.82 111.35,398.07 116.10,402.82 111.35,407.57" fill="#00ffff"/>
<polygon points="112.67,386.14 117.42,381.39 122.17,386.14 117.42,390.89" fill="#00ffff"/>
<polygon points="118.74,386.14 123.49,381.39 128.24,386.14 123.49,390.89" fill="#00ffff"/>
<polygon points="124.81,402.82 129.56,398.07 134.31,402.82 129.56,407.57" fill="#00ffff"/>
<polygon points="130.88,380.76 135.63,376.01 140.38,380.76 135.63,385.51" fill="#00ffff"/>
<polygon points="136.95,402.82 141.70,398.07 146.45,402.82 141.70,407.57" fill="#00ffff"/>
<polygon points="143.02,380.76 147.77,376.01 152.52,380.76 147.77,385.51" fill="#00ffff"/>
<polygon points="149.09,402.82 153.84,398.07 158.59,402.82 153.84,407.57" fill="#00ffff"/>
<polygon points="155.16,386.14 159.91,381.39 164.66,386.14 159.91,390.89" fill="#00ffff"/>
<polygon points="161.23,402.82 165.98,398.07 170.73,402.82 165.98,407.57" fill="#00ffff"/>
<polygon points="167.30,372.66 172.05,367.91 176.80,372.66 172.05,377.41" fill="#00ffff"/>
<polygon points="173.37,402.82 178.12,398.07 182.87,402.82 178.12,407.57" fill="#00ffff"/>
<polygon points="179.44,380.76 184.19,376.01 188.94,380.76 184.19,385.51" fill="#00ffff"/>
<polygon points="191.58,366.61 196.33,361.86 201.08,366.61 196.33,371.36" fill="#00ffff"/>
<polygon points="197.65,402.82 202.40,398.07 207.15,402.82 202.40,407.57" fill="#00ffff"/>
<polygon points="203.72,402.82 208.47,398.07 213.22,402.82 208.47,407.57" fill="#00ffff"/>
<polygon points="209.79,393.06 214.54,388.31 219.29,393.06 214.54,397.81" fill="#00ffff"/>
<polygon points="215.86,359.69 220.61,354.94 225.36,359.69 220.61,364.44" fill="#00ffff"/>
<polygon points="228.00,402.82 232.75,398.07 237.50,402.82 232.75,407.57" fill="#00ffff"/>
<polygon points="240.14,419.51 244.89,414.76 249.64,419.51 244.89,424.26" fill="#00ffff"/>
<polygon points="246.21,372.66 250.96,367.91 255.71,372.66 250.96,377.41" fill="#00ffff"/>
<polygon points="252.28,393.06 257.03,388.31 261.78,393.06 257.03,397.81" fill="#00ffff"/>
<polygon points="258.35,386.14 263.10,381.39 267.85,386.14 263.10,390.89" fill="#00ffff"/>
<polygon points="270.49,386.14 275.24,381.39 279.99,386.14 275.24,390.89" fill="#00ffff"/>
<polygon points="276.56,369.45 281.31,364.70 286.06,369.45 281.31,374.20" fill="#00ffff"/>
<polygon points="282.63,386.14 287.38,381.39 292.13,386.14 287.38,390.89" fill="#00ffff"/>
<polygon points="288.70,402.82 293.45,398.07 298.20,402.82 293.45,407.57" fill="#00ffff"/>
<polygon points="294.77,369.45 299.52,364.70 304.27,369.45 299.52,374.20" fill="#00ffff"/>
<polygon points="300.84,369.45 305.59,364.70 310.34,369.45 305.59,374.20" fill="#00ffff"/>
<polygon points="319.05,419.51 323.80,414.76 328.55,419.51 323.80,424.26" fill="#00ffff"/>
<polygon points="325.12,380.76 329.87,376.01 334.62,380.76 329.87,385.51" fill="#00ffff"/>
<polygon points="331.19,402.82 335.94,398.07 340.69,402.82 335.94,407.57" fill="#00ffff"/>
<polygon points="337.26,369.45 342.01,364.70 346.76,369.45 342.01,374.20" fill="#00ffff"/>
<polygon points="343.33,393.06 348.08,388.31 352.83,393.06 348.08,397.81" fill="#00ffff"/>
<polygon points="361.54,380.76 366.29,376.01 371.04,380.76 366.29,385.51" fill="#00ffff"/>
<polygon points="367.61,419.51 372.36,414.76 377.11,419.51 372.36,424.26" fill="#00ffff"/>
<polygon points="373.68,361.78 378.43,357.03 383.18,361.78 378.43,366.53" fill="#00ffff"/>
<polygon points="379.75,359.69 384.50,354.94 389.25,359.69 384.50,364.44" fill="#00ffff"/>
<polygon points="391.89,369.45 396.64,364.70 401.39,369.45 396.64,374.20" fill="#00ffff"/>
<polygon points="397.96,402.82 402.71,398.07 407.46,402.82 402.71,407.57" fill="#00ffff"/>
<polygon points="404.03,386.14 408.78,381.39 413.53,386.14 408.78,390.89" fill="#00ffff"/>
<polygon points="410.10,402.82 414.85,398.07 419.60,402.82 414.85,407.57" fill="#00ffff"/>
<polygon points="416.17,393.06 420.92,388.31 425.67,393.06 420.92,397.81" fill="#00ffff"/>
<polygon points="422.24,376.37 426.99,371.62 431.74,376.37 426.99,381.12" fill="#00ffff"/>
<polygon points="428.31,386.14 433.06,381.39 437.81,386.14 433.06,390.89" fill="#00ffff"/>
<polygon points="440.45,393.06 445.20,388.31 449.95,393.06 445.20,397.81" fill="#00ffff"/>
<polygon points="446.52,402.82 451.27,398.07 456.02,402.82 451.27,407.57" fill="#00ffff"/>
<polygon points="458.66,376.37 463.41,371.62 468.16,376.37 463.41,381.12" fill="#00ffff"/>
<polygon points="464.73,402.82 469.48,398.07 474.23,402.82 469.48,407.57" fill="#00ffff"/>
<polygon points="470.80,369.45 475.55,364.70 480.30,369.45 475.55,374.20" fill="#00ffff"/>
<polygon points="476.87,393.06 481.62,388.31 486.37,393.06 481.62,397.81" fill="#00ffff"/>
<polygon points="482.94,386.14 487.69,381.39 492.44,386.14 487.69,390.89" fill="#00ffff"/>
<polygon points="489.01,402.82 493.76,398.07 498.51,402.82 493.76,407.57" fill="#00ffff"/>
<polygon points="495.08,386.14 499.83,381.39 504.58,386.14 499.83,390.89" fill="#00ffff"/>
<polygon points="501.15,372.66 505.90,367.91 510.65,372.66 505.90,377.41" fill="#00ffff"/>
<polygon points="513.29,386.14 518.04,381.39 522.79,386.14 518.04,390.89" fill="#00ffff"/>
<polygon points="531.50,380.76 536.25,376.01 541.00,380.76 536.25,385.51" fill="#00ffff"/>
<polygon points="537.57,402.82 542.32,398.07 547.07,402.82 542.32,407.57" fill="#00ffff"/>
<polygon points="549.71,369.45 554.46,364.70 559.21,369.45 554.46,374.20" fill="#00ffff"/>
<polygon points="555.78,402.82 560.53,398.07 565.28,402.82 560.53,407.57" fill="#00ffff"/>
<polygon points="561.85,386.14 566.60,381.39 571.35,386.14 566.60,390.89" fill="#00ffff"/>
<polygon points="567.92,369.45 572.67,364.70 577.42,369.45 572.67,374.20" fill="#00ffff"/>
<polygon points="573.99,402.82 578.74,398.07 583.49,402.82 578.74,407.57" fill="#00ffff"/>
<polygon points="585.45,402.82 590.20,398.07 594.95,402.82 590.20,407.57" fill="#00ffff"/>
</g>
<rect x="65.0" y="9.5" width="522.0" height="417.5" fill="none" stroke="#000" stroke-width="1.9"/>
<line x1="60.40" y1="426.91" x2="65.00" y2="426.91" stroke="#000" stroke-width="1.25" stroke-linecap="butt"/>
<line x1="587.00" y1="426.91" x2="591.60" y2="426.91" stroke="#000" stroke-width="1.25" stroke-linecap="butt"/>
<line x1="60.40" y1="419.98" x2="65.00" y2="419.98" stroke="#000" stroke-width="1.25" stroke-linecap="butt"/>
<line x1="587.00" y1="419.98" x2="591.60" y2="419.98" stroke="#000" stroke-width="1.25" stroke-linecap="butt"/>
<line x1="60.40" y1="414.60" x2="65.00" y2="414.60" stroke="#000" stroke-width="1.25" stroke-linecap="butt"/>
<line x1="587.00" y1="414.60" x2="591.60" y2="414.60" stroke="#000" stroke-width="1.25" stroke-linecap="butt"/>
<line x1="60.40" y1="410.21" x2="65.00" y2="410.21" stroke="#000" stroke-width="1.25" stroke-linecap="butt"/>
<line x1="587.00" y1="410.21" x2="591.60" y2="410.21" stroke="#000" stroke-width="1.25" stroke-linecap="butt"/>
<line x1="60.40" y1="406.50" x2="65.00" y2="406.50" stroke="#000" stroke-width="1.25" stroke-linecap="butt"/>
<line x1="587.00" y1="406.50" x2="591.60" y2="406.50" stroke="#000" stroke-width="1.25" stroke-linecap="butt"/>
<line x1="60.40" y1="403.28" x2="65.00" y2="403.28" stroke="#000" stroke-width="1.25" stroke-linecap="butt"/>
<line x1="587.00" y1="403.28" x2="591.60" y2="403.28" stroke="#000" stroke-width="1.25" stroke-linecap="butt"/>
<line x1="60.40" y1="400.44" x2="65.00" y2="400.44" stroke="#000" stroke-width="1.25" stroke-linecap="butt"/>
<line x1="587.00" y1="400.44" x2="591.60" y2="400.44" stroke="#000" stroke-width="1.25" stroke-linecap="butt"/>
<line x1="56.00" y1="397.90" x2="65.00" y2="397.90" stroke="#000" stroke-width="1.8" stroke-linecap="butt"/>
<line x1="587.00" y1="397.90" x2="596.00" y2="397.90" stroke="#000" stroke-width="1.8" stroke-linecap="butt"/>
<line x1="60.40" y1="381.20" x2="65.00" y2="381.20" stroke="#000" stroke-width="1.25" stroke-linecap="butt"/>
<line x1="587.00" y1="381.20" x2="591.60" y2="381.20" stroke="#000" stroke-width="1.25" stroke-linecap="butt"/>
<line x1="60.40" y1="371.42" x2="65.00" y2="371.42" stroke="#000" stroke-width="1.25" stroke-linecap="butt"/>
<line x1="587.00" y1="371.42" x2="591.60" y2="371.42" stroke="#000" stroke-width="1.25" stroke-linecap="butt"/>
<line x1="60.40" y1="364.49" x2="65.00" y2="364.49" stroke="#000" stroke-width="1.25" stroke-linecap="butt"/>
<line x1="587.00" y1="364.49" x2="591.60" y2="364.49" stroke="#000" stroke-width="1.25" stroke-linecap="butt"/>
<line x1="60.40" y1="359.11" x2="65.00" y2="359.11" stroke="#000" stroke-width="1.25" stroke-linecap="butt"/>
<line x1="587.00" y1="359.11" x2="591.60" y2="359.11" stroke="#000" stroke-width="1.25" stroke-linecap="butt"/>
<line x1="60.40" y1="354.72" x2="65.00" y2="354.72" stroke="#000" stroke-width="1.25" stroke-linecap="butt"/>
<line x1="587.00" y1="354.72" x2="591.60" y2="354.72" stroke="#000" stroke-width="1.25" stroke-linecap="butt"/>
<line x1="60.40" y1="351.01" x2="65.00" y2="351.01" stroke="#000" stroke-width="1.25" stroke-linecap="butt"/>
<line x1="587.00" y1="351.01" x2="591.60" y2="351.01" stroke="#000" stroke-width="1.25" stroke-linecap="butt"/>
<line x1="60.40" y1="347.79" x2="65.00" y2="347.79" stroke="#000" stroke-width="1.25" stroke-linecap="butt"/>
<line x1="587.00" y1="347.79" x2="591.60" y2="347.79" stroke="#000" stroke-width="1.25" stroke-linecap="butt"/>
<line x1="60.40" y1="344.95" x2="65.00" y2="344.95" stroke="#000" stroke-width="1.25" stroke-linecap="butt"/>
<line x1="587.00" y1="344.95" x2="591.60" y2="344.95" stroke="#000" stroke-width="1.25" stroke-linecap="butt"/>
<line x1="56.00" y1="342.41" x2="65.00" y2="342.41" stroke="#000" stroke-width="1.8" stroke-linecap="butt"/>
<line x1="587.00" y1="342.41" x2="596.00" y2="342.41" stroke="#000" stroke-width="1.8" stroke-linecap="butt"/>
<line x1="60.40" y1="325.71" x2="65.00" y2="325.71" stroke="#000" stroke-width="1.25" stroke-linecap="butt"/>
<line x1="587.00" y1="325.71" x2="591.60" y2="325.71" stroke="#000" stroke-width="1.25" stroke-linecap="butt"/>
<line x1="60.40" y1="315.93" x2="65.00" y2="315.93" stroke="#000" stroke-width="1.25" stroke-linecap="butt"/>
<line x1="587.00" y1="315.93" x2="591.60" y2="315.93" stroke="#000" stroke-width="1.25" stroke-linecap="butt"/>
<line x1="60.40" y1="309.00" x2="65.00" y2="309.00" stroke="#000" stroke-width="1.25" stroke-linecap="butt"/>
<line x1="587.00" y1="309.00" x2="591.60" y2="309.00" stroke="#000" stroke-width="1.25" stroke-linecap="butt"/>
<line x1="60.40" y1="303.62" x2="65.00" y2="303.62" stroke="#000" stroke-width="1.25" stroke-linecap="butt"/>
<line x1="587.00" y1="303.62" x2="591.60" y2="303.62" stroke="#000" stroke-width="1.25" stroke-linecap="butt"/>
<line x1="60.40" y1="299.23" x2="65.00" y2="299.23" stroke="#000" stroke-width="1.25" stroke-linecap="butt"/>
<line x1="587.00" y1="299.23" x2="591.60" y2="299.23" stroke="#000" stroke-width="1.25" stroke-linecap="butt"/>
<line x1="60.40" y1="295.52" x2="65.00" y2="295.52" stroke="#000" stroke-width="1.25" stroke-linecap="butt"/>
<line x1="587.00" y1="295.52" x2="591.60" y2="295.52" stroke="#000" stroke-width="1.25" stroke-linecap="butt"/>
<line x1="60.40" y1="292.30" x2="65.00" y2="292.30" stroke="#000" stroke-width="1.25" stroke-linecap="butt"/>
<line x1="587.00" y1="292.30" x2="591.60" y2="292.30" stroke="#000" stroke-width="1.25" stroke-linecap="butt"/>
<line x1="60.40" y1="289.46" x2="65.00" y2="289.46" stroke="#000" stroke-width="1.25" stroke-linecap="butt"/>
<line x1="587.00" y1="289.46" x2="591.60" y2="289.46" stroke="#000" stroke-width="1.25" stroke-linecap="butt"/>
<line x1="56.00" y1="286.92" x2="65.00" y2="286.92" stroke="#000" stroke-width="1.8" stroke-linecap="butt"/>
<line x1="587.00" y1="286.92" x2="596.00" y2="286.92" stroke="#000" stroke-width="1.8" stroke-linecap="butt"/>
<line x1="60.40" y1="270.22" x2="65.00" y2="270.22" stroke="#000" stroke-width="1.25" stroke-linecap="butt"/>
<line x1="587.00" y1="270.22" x2="591.60" y2="270.22" stroke="#000" stroke-width="1.25" stroke-linecap="butt"/>
<line x1="60.40" y1="260.44" x2="65.00" y2="260.44" stroke="#000" stroke-width="1.25" stroke-linecap="butt"/>
<line x1="587.00" y1="260.44" x2="591.60" y2="260.44" stroke="#000" stroke-width="1.25" stroke-linecap="butt"/>
<line x1="60.40" y1="253.51" x2="65.00" y2="253.51" stroke="#000" stroke-width="1.25" stroke-linecap="butt"/>
<line x1="587.00" y1="253.51" x2="591.60" y2="253.51" stroke="#000" stroke-width="1.25" stroke-linecap="butt"/>
<line x1="60.40" y1="248.13" x2="65.00" y2="248.13" stroke="#000" stroke-width="1.25" stroke-linecap="butt"/>
<line x1="587.00" y1="248.13" x2="591.60" y2="248.13" stroke="#000" stroke-width="1.25" stroke-linecap="butt"/>
<line x1="60.40" y1="243.74" x2="65.00" y2="243.74" stroke="#000" stroke-width="1.25" stroke-linecap="butt"/>
<line x1="587.00" y1="243.74" x2="591.60" y2="243.74" stroke="#000" stroke-width="1.25" stroke-linecap="butt"/>
<line x1="60.40" y1="240.03" x2="65.00" y2="240.03" stroke="#000" stroke-width="1.25" stroke-linecap="butt"/>
<line x1="587.00" y1="240.03" x2="591.60" y2="240.03" stroke="#000" stroke-width="1.25" stroke-linecap="butt"/>
<line x1="60.40" y1="236.81" x2="65.00" y2="236.81" stroke="#000" stroke-width="1.25" stroke-linecap="butt"/>
<line x1="587.00" y1="236.81" x2="591.60" y2="236.81" stroke="#000" stroke-width="1.25" stroke-linecap="butt"/>
<line x1="60.40" y1="233.97" x2="65.00" y2="233.97" stroke="#000" stroke-width="1.25" stroke-linecap="butt"/>
<line x1="587.00" y1="233.97" x2="591.60" y2="233.97" stroke="#000" stroke-width="1.25" stroke-linecap="butt"/>
<line x1="56.00" y1="231.43" x2="65.00" y2="231.43" stroke="#000" stroke-width="1.8" stroke-linecap="butt"/>
<line x1="587.00" y1="231.43" x2="596.00" y2="231.43" stroke="#000" stroke-width="1.8" stroke-linecap="butt"/>
<line x1="60.40" y1="214.73" x2="65.00" y2="214.73" stroke="#000" stroke-width="1.25" stroke-linecap="butt"/>
<line x1="587.00" y1="214.73" x2="591.60" y2="214.73" stroke="#000" stroke-width="1.25" stroke-linecap="butt"/>
<line x1="60.40" y1="204.95" x2="65.00" y2="204.95" stroke="#000" stroke-width="1.25" stroke-linecap="butt"/>
<line x1="587.00" y1="204.95" x2="591.60" y2="204.95" stroke="#000" stroke-width="1.25" stroke-linecap="butt"/>
<line x1="60.40" y1="198.02" x2="65.00" y2="198.02" stroke="#000" stroke-width="1.25" stroke-linecap="butt"/>
<line x1="587.00" y1="198.02" x2="591.60" y2="198.02" stroke="#000" stroke-width="1.25" stroke-linecap="butt"/>
<line x1="60.40" y1="192.64" x2="65.00" y2="192.64" stroke="#000" stroke-width="1.25" stroke-linecap="butt"/>
<line x1="587.00" y1="192.64" x2="591.60" y2="192.64" stroke="#000" stroke-width="1.25" stroke-linecap="butt"/>
<line x1="60.40" y1="188.25" x2="65.00" y2="188.25" stroke="#000" stroke-width="1.25" stroke-linecap="butt"/>
<line x1="587.00" y1="188.25" x2="591.60" y2="188.25" stroke="#000" stroke-width="1.25" stroke-linecap="butt"/>
<line x1="60.40" y1="184.54" x2="65.00" y2="184.54" stroke="#000" stroke-width="1.25" stroke-linecap="butt"/>
<line x1="587.00" y1="184.54" x2="591.60" y2="184.54" stroke="#000" stroke-width="1.25" stroke-linecap="butt"/>
<line x1="60.40" y1="181.32" x2="65.00" y2="181.32" stroke="#000" stroke-width="1.25" stroke-linecap="butt"/>
<line x1="587.00" y1="181.32" x2="591.60" y2="181.32" stroke="#000" stroke-width="1.25" stroke-linecap="butt"/>
<line x1="60.40" y1="178.48" x2="65.00" y2="178.48" stroke="#000" stroke-width="1.25" stroke-linecap="butt"/>
<line x1="587.00" y1="178.48" x2="591.60" y2="178.48" stroke="#000" stroke-width="1.25" stroke-linecap="butt"/>
<line x1="56.00" y1="175.94" x2="65.00" y2="175.94" stroke="#000" stroke-width="1.8" stroke-linecap="butt"/>
<line x1="587.00" y1="175.94" x2="596.00" y2="175.94" stroke="#000" stroke-width="1.8" stroke-linecap="butt"/>
<line x1="60.40" y1="159.24" x2="65.00" y2="159.24" stroke="#000" stroke-width="1.25" stroke-linecap="butt"/>
<line x1="587.00" y1="159.24" x2="591.60" y2="159.24" stroke="#000" stroke-width="1.25" stroke-linecap="butt"/>
<line x1="60.40" y1="149.46" x2="65.00" y2="149.46" stroke="#000" stroke-width="1.25" stroke-linecap="butt"/>
<line x1="587.00" y1="149.46" x2="591.60" y2="149.46" stroke="#000" stroke-width="1.25" stroke-linecap="butt"/>
<line x1="60.40" y1="142.53" x2="65.00" y2="142.53" stroke="#000" stroke-width="1.25" stroke-linecap="butt"/>
<line x1="587.00" y1="142.53" x2="591.60" y2="142.53" stroke="#000" stroke-width="1.25" stroke-linecap="butt"/>
<line x1="60.40" y1="137.15" x2="65.00" y2="137.15" stroke="#000" stroke-width="1.25" stroke-linecap="butt"/>
<line x1="587.00" y1="137.15" x2="591.60" y2="137.15" stroke="#000" stroke-width="1.25" stroke-linecap="butt"/>
<line x1="60.40" y1="132.76" x2="65.00" y2="132.76" stroke="#000" stroke-width="1.25" stroke-linecap="butt"/>
<line x1="587.00" y1="132.76" x2="591.60" y2="132.76" stroke="#000" stroke-width="1.25" stroke-linecap="butt"/>
<line x1="60.40" y1="129.05" x2="65.00" y2="129.05" stroke="#000" stroke-width="1.25" stroke-linecap="butt"/>
<line x1="587.00" y1="129.05" x2="591.60" y2="129.05" stroke="#000" stroke-width="1.25" stroke-linecap="butt"/>
<line x1="60.40" y1="125.83" x2="65.00" y2="125.83" stroke="#000" stroke-width="1.25" stroke-linecap="butt"/>
<line x1="587.00" y1="125.83" x2="591.60" y2="125.83" stroke="#000" stroke-width="1.25" stroke-linecap="butt"/>
<line x1="60.40" y1="122.99" x2="65.00" y2="122.99" stroke="#000" stroke-width="1.25" stroke-linecap="butt"/>
<line x1="587.00" y1="122.99" x2="591.60" y2="122.99" stroke="#000" stroke-width="1.25" stroke-linecap="butt"/>
<line x1="56.00" y1="120.45" x2="65.00" y2="120.45" stroke="#000" stroke-width="1.8" stroke-linecap="butt"/>
<line x1="587.00" y1="120.45" x2="596.00" y2="120.45" stroke="#000" stroke-width="1.8" stroke-linecap="butt"/>
<line x1="60.40" y1="103.75" x2="65.00" y2="103.75" stroke="#000" stroke-width="1.25" stroke-linecap="butt"/>
<line x1="587.00" y1="103.75" x2="591.60" y2="103.75" stroke="#000" stroke-width="1.25" stroke-linecap="butt"/>
<line x1="60.40" y1="93.97" x2="65.00" y2="93.97" stroke="#000" stroke-width="1.25" stroke-linecap="butt"/>
<line x1="587.00" y1="93.97" x2="591.60" y2="93.97" stroke="#000" stroke-width="1.25" stroke-linecap="butt"/>
<line x1="60.40" y1="87.04" x2="65.00" y2="87.04" stroke="#000" stroke-width="1.25" stroke-linecap="butt"/>
<line x1="587.00" y1="87.04" x2="591.60" y2="87.04" stroke="#000" stroke-width="1.25" stroke-linecap="butt"/>
<line x1="60.40" y1="81.66" x2="65.00" y2="81.66" stroke="#000" stroke-width="1.25" stroke-linecap="butt"/>
<line x1="587.00" y1="81.66" x2="591.60" y2="81.66" stroke="#000" stroke-width="1.25" stroke-linecap="butt"/>
<line x1="60.40" y1="77.27" x2="65.00" y2="77.27" stroke="#000" stroke-width="1.25" stroke-linecap="butt"/>
<line x1="587.00" y1="77.27" x2="591.60" y2="77.27" stroke="#000" stroke-width="1.25" stroke-linecap="butt"/>
<line x1="60.40" y1="73.56" x2="65.00" y2="73.56" stroke="#000" stroke-width="1.25" stroke-linecap="butt"/>
<line x1="587.00" y1="73.56" x2="591.60" y2="73.56" stroke="#000" stroke-width="1.25" stroke-linecap="butt"/>
<line x1="60.40" y1="70.34" x2="65.00" y2="70.34" stroke="#000" stroke-width="1.25" stroke-linecap="butt"/>
<line x1="587.00" y1="70.34" x2="591.60" y2="70.34" stroke="#000" stroke-width="1.25" stroke-linecap="butt"/>
<line x1="60.40" y1="67.50" x2="65.00" y2="67.50" stroke="#000" stroke-width="1.25" stroke-linecap="butt"/>
<line x1="587.00" y1="67.50" x2="591.60" y2="67.50" stroke="#000" stroke-width="1.25" stroke-linecap="butt"/>
<line x1="56.00" y1="64.96" x2="65.00" y2="64.96" stroke="#000" stroke-width="1.8" stroke-linecap="butt"/>
<line x1="587.00" y1="64.96" x2="596.00" y2="64.96" stroke="#000" stroke-width="1.8" stroke-linecap="butt"/>
<line x1="60.40" y1="48.26" x2="65.00" y2="48.26" stroke="#000" stroke-width="1.25" stroke-linecap="butt"/>
<line x1="587.00" y1="48.26" x2="591.60" y2="48.26" stroke="#000" stroke-width="1.25" stroke-linecap="butt"/>
<line x1="60.40" y1="38.48" x2="65.00" y2="38.48" stroke="#000" stroke-width="1.25" stroke-linecap="butt"/>
<line x1="587.00" y1="38.48" x2="591.60" y2="38.48" stroke="#000" stroke-width="1.25" stroke-linecap="butt"/>
<line x1="60.40" y1="31.55" x2="65.00" y2="31.55" stroke="#000" stroke-width="1.25" stroke-linecap="butt"/>
<line x1="587.00" y1="31.55" x2="591.60" y2="31.55" stroke="#000" stroke-width="1.25" stroke-linecap="butt"/>
<line x1="60.40" y1="26.17" x2="65.00" y2="26.17" stroke="#000" stroke-width="1.25" stroke-linecap="butt"/>
<line x1="587.00" y1="26.17" x2="591.60" y2="26.17" stroke="#000" stroke-width="1.25" stroke-linecap="butt"/>
<line x1="60.40" y1="21.78" x2="65.00" y2="21.78" stroke="#000" stroke-width="1.25" stroke-linecap="butt"/>
<line x1="587.00" y1="21.78" x2="591.60" y2="21.78" stroke="#000" stroke-width="1.25" stroke-linecap="butt"/>
<line x1="60.40" y1="18.07" x2="65.00" y2="18.07" stroke="#000" stroke-width="1.25" stroke-linecap="butt"/>
<line x1="587.00" y1="18.07" x2="591.60" y2="18.07" stroke="#000" stroke-width="1.25" stroke-linecap="butt"/>
<line x1="60.40" y1="14.85" x2="65.00" y2="14.85" stroke="#000" stroke-width="1.25" stroke-linecap="butt"/>
<line x1="587.00" y1="14.85" x2="591.60" y2="14.85" stroke="#000" stroke-width="1.25" stroke-linecap="butt"/>
<line x1="60.40" y1="12.01" x2="65.00" y2="12.01" stroke="#000" stroke-width="1.25" stroke-linecap="butt"/>
<line x1="587.00" y1="12.01" x2="591.60" y2="12.01" stroke="#000" stroke-width="1.25" stroke-linecap="butt"/>
<line x1="56.00" y1="9.47" x2="65.00" y2="9.47" stroke="#000" stroke-width="1.8" stroke-linecap="butt"/>
<line x1="587.00" y1="9.47" x2="596.00" y2="9.47" stroke="#000" stroke-width="1.8" stroke-linecap="butt"/>
<text x="28.2" y="403.60" font-size="16" textLength="18.0" lengthAdjust="spacingAndGlyphs">10</text>
<text x="45.9" y="394.90" font-size="8.2" text-anchor="start">0</text>
<text x="28.2" y="348.11" font-size="16" textLength="18.0" lengthAdjust="spacingAndGlyphs">10</text>
<text x="45.9" y="339.41" font-size="8.2" text-anchor="start">1</text>
<text x="28.2" y="292.62" font-size="16" textLength="18.0" lengthAdjust="spacingAndGlyphs">10</text>
<text x="45.9" y="283.92" font-size="8.2" text-anchor="start">2</text>
<text x="28.2" y="237.13" font-size="16" textLength="18.0" lengthAdjust="spacingAndGlyphs">10</text>
<text x="45.9" y="228.43" font-size="8.2" text-anchor="start">3</text>
<text x="28.2" y="181.64" font-size="16" textLength="18.0" lengthAdjust="spacingAndGlyphs">10</text>
<text x="45.9" y="172.94" font-size="8.2" text-anchor="start">4</text>
<text x="28.2" y="126.15" font-size="16" textLength="18.0" lengthAdjust="spacingAndGlyphs">10</text>
<text x="45.9" y="117.45" font-size="8.2" text-anchor="start">5</text>
<text x="28.2" y="70.66" font-size="16" textLength="18.0" lengthAdjust="spacingAndGlyphs">10</text>
<text x="45.9" y="61.96" font-size="8.2" text-anchor="start">6</text>
<text x="28.2" y="15.17" font-size="16" textLength="18.0" lengthAdjust="spacingAndGlyphs">10</text>
<text x="45.9" y="6.47" font-size="8.2" text-anchor="start">7</text>
<line x1="88.03" y1="9.50" x2="88.03" y2="4.90" stroke="#000" stroke-width="1.25" stroke-linecap="butt"/>
<line x1="88.03" y1="427.00" x2="88.03" y2="431.20" stroke="#000" stroke-width="1.25" stroke-linecap="butt"/>
<line x1="126.41" y1="9.50" x2="126.41" y2="0.90" stroke="#000" stroke-width="1.8" stroke-linecap="butt"/>
<line x1="126.41" y1="427.00" x2="126.41" y2="435.00" stroke="#000" stroke-width="1.8" stroke-linecap="butt"/>
<line x1="164.79" y1="9.50" x2="164.79" y2="4.90" stroke="#000" stroke-width="1.25" stroke-linecap="butt"/>
<line x1="164.79" y1="427.00" x2="164.79" y2="431.20" stroke="#000" stroke-width="1.25" stroke-linecap="butt"/>
<line x1="203.18" y1="9.50" x2="203.18" y2="0.90" stroke="#000" stroke-width="1.8" stroke-linecap="butt"/>
<line x1="203.18" y1="427.00" x2="203.18" y2="435.00" stroke="#000" stroke-width="1.8" stroke-linecap="butt"/>
<line x1="241.56" y1="9.50" x2="241.56" y2="4.90" stroke="#000" stroke-width="1.25" stroke-linecap="butt"/>
<line x1="241.56" y1="427.00" x2="241.56" y2="431.20" stroke="#000" stroke-width="1.25" stroke-linecap="butt"/>
<line x1="279.94" y1="9.50" x2="279.94" y2="0.90" stroke="#000" stroke-width="1.8" stroke-linecap="butt"/>
<line x1="279.94" y1="427.00" x2="279.94" y2="435.00" stroke="#000" stroke-width="1.8" stroke-linecap="butt"/>
<line x1="318.32" y1="9.50" x2="318.32" y2="4.90" stroke="#000" stroke-width="1.25" stroke-linecap="butt"/>
<line x1="318.32" y1="427.00" x2="318.32" y2="431.20" stroke="#000" stroke-width="1.25" stroke-linecap="butt"/>
<line x1="356.71" y1="9.50" x2="356.71" y2="0.90" stroke="#000" stroke-width="1.8" stroke-linecap="butt"/>
<line x1="356.71" y1="427.00" x2="356.71" y2="435.00" stroke="#000" stroke-width="1.8" stroke-linecap="butt"/>
<line x1="395.09" y1="9.50" x2="395.09" y2="4.90" stroke="#000" stroke-width="1.25" stroke-linecap="butt"/>
<line x1="395.09" y1="427.00" x2="395.09" y2="431.20" stroke="#000" stroke-width="1.25" stroke-linecap="butt"/>
<line x1="433.47" y1="9.50" x2="433.47" y2="0.90" stroke="#000" stroke-width="1.8" stroke-linecap="butt"/>
<line x1="433.47" y1="427.00" x2="433.47" y2="435.00" stroke="#000" stroke-width="1.8" stroke-linecap="butt"/>
<line x1="471.85" y1="9.50" x2="471.85" y2="4.90" stroke="#000" stroke-width="1.25" stroke-linecap="butt"/>
<line x1="471.85" y1="427.00" x2="471.85" y2="431.20" stroke="#000" stroke-width="1.25" stroke-linecap="butt"/>
<line x1="510.24" y1="9.50" x2="510.24" y2="0.90" stroke="#000" stroke-width="1.8" stroke-linecap="butt"/>
<line x1="510.24" y1="427.00" x2="510.24" y2="435.00" stroke="#000" stroke-width="1.8" stroke-linecap="butt"/>
<line x1="548.62" y1="9.50" x2="548.62" y2="4.90" stroke="#000" stroke-width="1.25" stroke-linecap="butt"/>
<line x1="548.62" y1="427.00" x2="548.62" y2="431.20" stroke="#000" stroke-width="1.25" stroke-linecap="butt"/>
<line x1="587.00" y1="9.50" x2="587.00" y2="0.90" stroke="#000" stroke-width="1.8" stroke-linecap="butt"/>
<line x1="587.00" y1="427.00" x2="587.00" y2="435.00" stroke="#000" stroke-width="1.8" stroke-linecap="butt"/>
<line x1="65.00" y1="427.00" x2="65.00" y2="435.00" stroke="#000" stroke-width="1.9" stroke-linecap="butt"/>
<text x="65.00" y="453.60" font-size="16" text-anchor="middle" >5</text>
<text x="126.41" y="453.60" font-size="16" text-anchor="middle" >25</text>
<text x="203.18" y="453.60" font-size="16" text-anchor="middle" >50</text>
<text x="279.94" y="453.60" font-size="16" text-anchor="middle" >75</text>
<text x="356.71" y="453.60" font-size="16" text-anchor="middle" >100</text>
<text x="433.47" y="453.60" font-size="16" text-anchor="middle" >125</text>
<text x="510.24" y="453.60" font-size="16" text-anchor="middle" >150</text>
<text x="587.00" y="453.60" font-size="16" text-anchor="middle" >175</text>
<text transform="translate(15.6,231.6) rotate(-90)" font-size="20.15" text-anchor="middle">Integrated Counts</text>
<line x1="380.60" y1="32.60" x2="426.90" y2="32.60" stroke="#000000" stroke-width="2.0" stroke-linecap="round"/>
<rect x="398.90" y="30.6" width="9.8" height="4" fill="#fff"/>
<rect x="400.20" y="29.00" width="7.20" height="7.20" fill="#000000"/>
<text x="431.84" y="39.10" font-size="20.0" textLength="114.02" lengthAdjust="spacingAndGlyphs">m/z = 16 (O)</text>
<line x1="380.60" y1="57.80" x2="426.90" y2="57.80" stroke="#d800d8" stroke-width="2.0" stroke-linecap="round"/>
<rect x="398.90" y="55.8" width="9.8" height="4" fill="#fff"/>
<polygon points="406.70,53.00 406.70,62.60 398.40,57.80" fill="#ff00ff"/>
<text x="431.85" y="64.30" font-size="20.0" textLength="128.21" lengthAdjust="spacingAndGlyphs">m/z = 28 (CO)</text>
<line x1="380.60" y1="82.80" x2="426.90" y2="82.80" stroke="#00e600" stroke-width="2.0" stroke-linecap="round"/>
<rect x="398.90" y="80.8" width="9.8" height="4" fill="#fff"/>
<polygon points="399.00,85.70 408.60,85.70 403.80,77.40" fill="#00ff00"/>
<text x="431.85" y="89.30" font-size="20.0" textLength="106.62" lengthAdjust="spacingAndGlyphs">m/z = 32 (O</text>
<text x="538.42" y="97.60" font-size="11.5">2</text>
<text x="546.08" y="89.30" font-size="20.0">)</text>
<line x1="380.60" y1="114.30" x2="426.90" y2="114.30" stroke="#0000ee" stroke-width="2.0" stroke-linecap="round"/>
<rect x="398.90" y="112.3" width="9.8" height="4" fill="#fff"/>
<polygon points="399.00,111.40 408.60,111.40 403.80,119.70" fill="#0000ff"/>
<text x="431.86" y="120.80" font-size="20.0" textLength="120.50" lengthAdjust="spacingAndGlyphs">m/z = 44 (CO</text>
<text x="552.82" y="129.10" font-size="11.5">2</text>
<text x="560.58" y="120.80" font-size="20.0">)</text>
<line x1="380.60" y1="145.70" x2="426.90" y2="145.70" stroke="#c80000" stroke-width="2.0" stroke-linecap="round"/>
<rect x="398.90" y="143.7" width="9.8" height="4" fill="#fff"/>
<circle cx="403.80" cy="145.70" r="3.75" fill="#ff0000"/>
<text x="431.85" y="152.20" font-size="20.0" textLength="106.52" lengthAdjust="spacingAndGlyphs">m/z = 48 (O</text>
<text x="538.56" y="160.50" font-size="11.5">3</text>
<text x="545.88" y="152.20" font-size="20.0">)</text>
<line x1="380.60" y1="177.30" x2="426.90" y2="177.30" stroke="#10e8f0" stroke-width="2.0" stroke-linecap="round"/>
<rect x="398.90" y="175.3" width="9.8" height="4" fill="#fff"/>
<polygon points="399.05,177.30 403.80,172.55 408.55,177.30 403.80,182.05" fill="#00ffff"/>
<text x="431.86" y="183.80" font-size="20.0" textLength="120.50" lengthAdjust="spacingAndGlyphs">m/z = 60 (CO</text>
<text x="552.96" y="192.10" font-size="11.5">3</text>
<text x="560.58" y="183.80" font-size="20.0">)</text>
<g clip-path="url(#c2)">
<path d="M202.83 578.23L204.11 581.37M208.15 590.52L211.45 597.48M214.67 606.88L216.93 617.12M219.31 626.83L223.09 640.77M225.29 650.52L230.11 677.08M231.66 686.96L236.34 722.04M237.96 731.91L242.44 754.69M244.63 764.45L248.27 778.75M251.40 788.23L253.50 793.37M257.73 802.42L259.07 804.98M264.32 813.46L264.68 813.94M313.50 856.67L314.10 857.53M319.86 865.70L320.14 866.10M324.74 874.89L327.26 881.71" stroke="#000000" stroke-width="1.7" fill="none" stroke-linecap="round"/>
<rect x="62.70" y="537.40" width="7.20" height="7.20" fill="#000000"/>
<rect x="68.82" y="539.40" width="7.20" height="7.20" fill="#000000"/>
<rect x="74.94" y="539.40" width="7.20" height="7.20" fill="#000000"/>
<rect x="81.06" y="538.10" width="7.20" height="7.20" fill="#000000"/>
<rect x="87.18" y="541.40" width="7.20" height="7.20" fill="#000000"/>
<rect x="93.30" y="542.40" width="7.20" height="7.20" fill="#000000"/>
<rect x="99.42" y="542.90" width="7.20" height="7.20" fill="#000000"/>
<rect x="105.54" y="542.90" width="7.20" height="7.20" fill="#000000"/>
<rect x="111.66" y="543.40" width="7.20" height="7.20" fill="#000000"/>
<rect x="117.78" y="543.90" width="7.20" height="7.20" fill="#000000"/>
<rect x="123.90" y="544.40" width="7.20" height="7.20" fill="#000000"/>
<rect x="130.02" y="544.40" width="7.20" height="7.20" fill="#000000"/>
<rect x="136.14" y="544.40" width="7.20" height="7.20" fill="#000000"/>
<rect x="142.26" y="544.90" width="7.20" height="7.20" fill="#000000"/>
<rect x="148.38" y="545.40" width="7.20" height="7.20" fill="#000000"/>
<rect x="154.50" y="546.40" width="7.20" height="7.20" fill="#000000"/>
<rect x="160.62" y="548.40" width="7.20" height="7.20" fill="#000000"/>
<rect x="166.74" y="550.40" width="7.20" height="7.20" fill="#000000"/>
<rect x="172.86" y="552.00" width="7.20" height="7.20" fill="#000000"/>
<rect x="178.98" y="553.40" width="7.20" height="7.20" fill="#000000"/>
<rect x="185.10" y="555.40" width="7.20" height="7.20" fill="#000000"/>
<rect x="191.22" y="562.00" width="7.20" height="7.20" fill="#000000"/>
<rect x="197.34" y="570.00" width="7.20" height="7.20" fill="#000000"/>
<rect x="202.40" y="582.40" width="7.20" height="7.20" fill="#000000"/>
<rect x="210.00" y="598.40" width="7.20" height="7.20" fill="#000000"/>
<rect x="214.40" y="618.40" width="7.20" height="7.20" fill="#000000"/>
<rect x="220.80" y="642.00" width="7.20" height="7.20" fill="#000000"/>
<rect x="227.40" y="678.40" width="7.20" height="7.20" fill="#000000"/>
<rect x="233.40" y="723.40" width="7.20" height="7.20" fill="#000000"/>
<rect x="239.80" y="756.00" width="7.20" height="7.20" fill="#000000"/>
<rect x="245.90" y="780.00" width="7.20" height="7.20" fill="#000000"/>
<rect x="251.80" y="794.40" width="7.20" height="7.20" fill="#000000"/>
<rect x="257.80" y="805.80" width="7.20" height="7.20" fill="#000000"/>
<rect x="264.00" y="814.40" width="7.20" height="7.20" fill="#000000"/>
<rect x="270.40" y="821.00" width="7.20" height="7.20" fill="#000000"/>
<rect x="276.40" y="827.40" width="7.20" height="7.20" fill="#000000"/>
<rect x="282.80" y="830.80" width="7.20" height="7.20" fill="#000000"/>
<rect x="288.80" y="836.80" width="7.20" height="7.20" fill="#000000"/>
<rect x="295.00" y="844.40" width="7.20" height="7.20" fill="#000000"/>
<rect x="301.00" y="844.80" width="7.20" height="7.20" fill="#000000"/>
<rect x="307.00" y="849.00" width="7.20" height="7.20" fill="#000000"/>
<rect x="313.40" y="858.00" width="7.20" height="7.20" fill="#000000"/>
<rect x="319.40" y="866.60" width="7.20" height="7.20" fill="#000000"/>
<rect x="325.40" y="882.80" width="7.20" height="7.20" fill="#000000"/>
<rect x="331.40" y="889.40" width="7.20" height="7.20" fill="#000000"/>
<rect x="337.40" y="892.15" width="7.20" height="7.20" fill="#000000"/>
<rect x="343.45" y="890.85" width="7.20" height="7.20" fill="#000000"/>
<rect x="349.50" y="890.73" width="7.20" height="7.20" fill="#000000"/>
<rect x="355.55" y="891.30" width="7.20" height="7.20" fill="#000000"/>
<rect x="361.60" y="891.91" width="7.20" height="7.20" fill="#000000"/>
<rect x="367.65" y="890.53" width="7.20" height="7.20" fill="#000000"/>
<rect x="373.70" y="891.04" width="7.20" height="7.20" fill="#000000"/>
<rect x="379.75" y="891.07" width="7.20" height="7.20" fill="#000000"/>
<rect x="385.80" y="892.22" width="7.20" height="7.20" fill="#000000"/>
<rect x="391.85" y="891.31" width="7.20" height="7.20" fill="#000000"/>
<rect x="397.90" y="892.27" width="7.20" height="7.20" fill="#000000"/>
<rect x="403.95" y="890.69" width="7.20" height="7.20" fill="#000000"/>
<rect x="410.00" y="891.07" width="7.20" height="7.20" fill="#000000"/>
<rect x="416.05" y="891.80" width="7.20" height="7.20" fill="#000000"/>
<rect x="422.10" y="892.34" width="7.20" height="7.20" fill="#000000"/>
<rect x="428.15" y="891.34" width="7.20" height="7.20" fill="#000000"/>
<rect x="434.20" y="890.82" width="7.20" height="7.20" fill="#000000"/>
<rect x="440.25" y="890.58" width="7.20" height="7.20" fill="#000000"/>
<rect x="446.30" y="891.52" width="7.20" height="7.20" fill="#000000"/>
<rect x="452.35" y="890.74" width="7.20" height="7.20" fill="#000000"/>
<rect x="458.40" y="892.16" width="7.20" height="7.20" fill="#000000"/>
<rect x="464.45" y="892.23" width="7.20" height="7.20" fill="#000000"/>
<rect x="470.50" y="890.72" width="7.20" height="7.20" fill="#000000"/>
<rect x="476.55" y="890.94" width="7.20" height="7.20" fill="#000000"/>
<rect x="482.60" y="892.16" width="7.20" height="7.20" fill="#000000"/>
<rect x="488.65" y="891.78" width="7.20" height="7.20" fill="#000000"/>
<rect x="494.70" y="892.15" width="7.20" height="7.20" fill="#000000"/>
<rect x="500.75" y="891.09" width="7.20" height="7.20" fill="#000000"/>
<rect x="506.80" y="890.60" width="7.20" height="7.20" fill="#000000"/>
<rect x="512.85" y="890.97" width="7.20" height="7.20" fill="#000000"/>
<rect x="518.90" y="892.13" width="7.20" height="7.20" fill="#000000"/>
<rect x="524.95" y="890.92" width="7.20" height="7.20" fill="#000000"/>
<rect x="531.00" y="891.10" width="7.20" height="7.20" fill="#000000"/>
<rect x="537.05" y="891.26" width="7.20" height="7.20" fill="#000000"/>
<rect x="543.10" y="891.27" width="7.20" height="7.20" fill="#000000"/>
<rect x="549.15" y="891.24" width="7.20" height="7.20" fill="#000000"/>
<rect x="555.20" y="892.42" width="7.20" height="7.20" fill="#000000"/>
<rect x="561.25" y="890.66" width="7.20" height="7.20" fill="#000000"/>
<rect x="567.30" y="890.31" width="7.20" height="7.20" fill="#000000"/>
<rect x="573.35" y="892.47" width="7.20" height="7.20" fill="#000000"/>
<rect x="579.40" y="892.32" width="7.20" height="7.20" fill="#000000"/>
<rect x="585.45" y="892.57" width="7.20" height="7.20" fill="#000000"/>
<path d="M92.41 557.82L94.07 554.48M97.43 554.87L101.29 571.43M116.14 564.93L119.30 554.77M122.57 554.67L125.11 561.33M129.80 570.07L130.12 570.53M134.55 569.84L137.61 560.36M147.95 557.38L148.69 556.22M152.57 556.86L156.31 572.14M159.03 572.24L162.09 562.76M172.10 559.41L173.50 561.99M184.41 566.37L185.67 568.63M196.11 574.63L198.45 580.37M207.38 588.91L211.28 609.59M214.45 610.04L216.05 606.86M219.87 607.15L223.23 617.25M226.22 626.80L229.58 638.20M233.21 647.49L235.19 651.51M238.32 660.91L242.28 682.09M244.80 691.74L248.00 701.26M251.64 710.56L253.56 714.84M257.90 723.84L259.30 726.56M268.94 733.22L272.26 745.18M275.81 745.51L277.79 741.49M282.77 741.16L283.23 741.84M286.94 750.91L291.46 774.69M307.55 779.80L308.45 781.30M312.73 790.29L315.67 798.31M319.38 807.59L321.62 812.81M324.15 822.37L328.45 861.23M330.45 870.99L333.55 881.21M374.57 891.71L376.03 889.29M387.37 887.84L387.83 887.16M398.36 893.08L400.84 899.72M405.10 900.07L406.10 898.33M428.93 889.26L432.07 899.04M436.54 899.76L437.06 899.04M448.78 900.15L449.72 901.55M454.08 900.96L456.82 892.74M467.12 885.63L467.98 884.07M472.18 884.37L474.82 891.33M485.84 899.58L486.16 899.12M534.98 889.02L535.32 889.48M565.54 898.30L566.96 900.70M576.81 904.03L579.89 894.37" stroke="#e00000" stroke-width="1.7" fill="none" stroke-linecap="round"/>
<circle cx="65.70" cy="554.00" r="3.75" fill="#ff0000"/>
<circle cx="71.82" cy="547.70" r="3.75" fill="#ff0000"/>
<circle cx="77.94" cy="555.00" r="3.75" fill="#ff0000"/>
<circle cx="84.06" cy="560.00" r="3.75" fill="#ff0000"/>
<circle cx="90.18" cy="562.30" r="3.75" fill="#ff0000"/>
<circle cx="96.30" cy="550.00" r="3.75" fill="#ff0000"/>
<circle cx="102.42" cy="576.30" r="3.75" fill="#ff0000"/>
<circle cx="108.54" cy="577.70" r="3.75" fill="#ff0000"/>
<circle cx="114.66" cy="569.70" r="3.75" fill="#ff0000"/>
<circle cx="120.78" cy="550.00" r="3.75" fill="#ff0000"/>
<circle cx="126.90" cy="566.00" r="3.75" fill="#ff0000"/>
<circle cx="133.02" cy="574.60" r="3.75" fill="#ff0000"/>
<circle cx="139.14" cy="555.60" r="3.75" fill="#ff0000"/>
<circle cx="145.26" cy="561.60" r="3.75" fill="#ff0000"/>
<circle cx="151.38" cy="552.00" r="3.75" fill="#ff0000"/>
<circle cx="157.50" cy="577.00" r="3.75" fill="#ff0000"/>
<circle cx="163.62" cy="558.00" r="3.75" fill="#ff0000"/>
<circle cx="169.74" cy="555.00" r="3.75" fill="#ff0000"/>
<circle cx="175.86" cy="566.40" r="3.75" fill="#ff0000"/>
<circle cx="181.98" cy="562.00" r="3.75" fill="#ff0000"/>
<circle cx="188.10" cy="573.00" r="3.75" fill="#ff0000"/>
<circle cx="194.22" cy="570.00" r="3.75" fill="#ff0000"/>
<circle cx="200.34" cy="585.00" r="3.75" fill="#ff0000"/>
<circle cx="206.46" cy="584.00" r="3.75" fill="#ff0000"/>
<circle cx="212.20" cy="614.50" r="3.75" fill="#ff0000"/>
<circle cx="218.30" cy="602.40" r="3.75" fill="#ff0000"/>
<circle cx="224.80" cy="622.00" r="3.75" fill="#ff0000"/>
<circle cx="231.00" cy="643.00" r="3.75" fill="#ff0000"/>
<circle cx="237.40" cy="656.00" r="3.75" fill="#ff0000"/>
<circle cx="243.20" cy="687.00" r="3.75" fill="#ff0000"/>
<circle cx="249.60" cy="706.00" r="3.75" fill="#ff0000"/>
<circle cx="255.60" cy="719.40" r="3.75" fill="#ff0000"/>
<circle cx="261.60" cy="731.00" r="3.75" fill="#ff0000"/>
<circle cx="267.60" cy="728.40" r="3.75" fill="#ff0000"/>
<circle cx="273.60" cy="750.00" r="3.75" fill="#ff0000"/>
<circle cx="280.00" cy="737.00" r="3.75" fill="#ff0000"/>
<circle cx="286.00" cy="746.00" r="3.75" fill="#ff0000"/>
<circle cx="292.40" cy="779.60" r="3.75" fill="#ff0000"/>
<circle cx="299.00" cy="778.00" r="3.75" fill="#ff0000"/>
<circle cx="305.00" cy="775.50" r="3.75" fill="#ff0000"/>
<circle cx="311.00" cy="785.60" r="3.75" fill="#ff0000"/>
<circle cx="317.40" cy="803.00" r="3.75" fill="#ff0000"/>
<circle cx="323.60" cy="817.40" r="3.75" fill="#ff0000"/>
<circle cx="329.00" cy="866.20" r="3.75" fill="#ff0000"/>
<circle cx="335.00" cy="886.00" r="3.75" fill="#ff0000"/>
<circle cx="341.00" cy="889.00" r="3.75" fill="#ff0000"/>
<circle cx="347.00" cy="892.00" r="3.75" fill="#ff0000"/>
<circle cx="353.00" cy="896.00" r="3.75" fill="#ff0000"/>
<circle cx="359.40" cy="892.00" r="3.75" fill="#ff0000"/>
<circle cx="366.00" cy="888.40" r="3.75" fill="#ff0000"/>
<circle cx="372.00" cy="896.00" r="3.75" fill="#ff0000"/>
<circle cx="378.60" cy="885.00" r="3.75" fill="#ff0000"/>
<circle cx="384.60" cy="892.00" r="3.75" fill="#ff0000"/>
<circle cx="390.60" cy="883.00" r="3.75" fill="#ff0000"/>
<circle cx="396.60" cy="888.40" r="3.75" fill="#ff0000"/>
<circle cx="402.60" cy="904.40" r="3.75" fill="#ff0000"/>
<circle cx="408.60" cy="894.00" r="3.75" fill="#ff0000"/>
<circle cx="415.00" cy="888.00" r="3.75" fill="#ff0000"/>
<circle cx="421.00" cy="883.00" r="3.75" fill="#ff0000"/>
<circle cx="427.40" cy="884.50" r="3.75" fill="#ff0000"/>
<circle cx="433.60" cy="903.80" r="3.75" fill="#ff0000"/>
<circle cx="440.00" cy="895.00" r="3.75" fill="#ff0000"/>
<circle cx="446.00" cy="896.00" r="3.75" fill="#ff0000"/>
<circle cx="452.50" cy="905.70" r="3.75" fill="#ff0000"/>
<circle cx="458.40" cy="888.00" r="3.75" fill="#ff0000"/>
<circle cx="464.70" cy="890.00" r="3.75" fill="#ff0000"/>
<circle cx="470.40" cy="879.70" r="3.75" fill="#ff0000"/>
<circle cx="476.60" cy="896.00" r="3.75" fill="#ff0000"/>
<circle cx="483.00" cy="903.70" r="3.75" fill="#ff0000"/>
<circle cx="489.00" cy="895.00" r="3.75" fill="#ff0000"/>
<circle cx="495.00" cy="894.00" r="3.75" fill="#ff0000"/>
<circle cx="501.50" cy="897.00" r="3.75" fill="#ff0000"/>
<circle cx="507.70" cy="895.00" r="3.75" fill="#ff0000"/>
<circle cx="513.70" cy="894.00" r="3.75" fill="#ff0000"/>
<circle cx="520.00" cy="893.00" r="3.75" fill="#ff0000"/>
<circle cx="526.00" cy="892.00" r="3.75" fill="#ff0000"/>
<circle cx="532.00" cy="885.00" r="3.75" fill="#ff0000"/>
<circle cx="538.30" cy="893.50" r="3.75" fill="#ff0000"/>
<circle cx="544.00" cy="899.00" r="3.75" fill="#ff0000"/>
<circle cx="550.00" cy="893.00" r="3.75" fill="#ff0000"/>
<circle cx="556.70" cy="896.50" r="3.75" fill="#ff0000"/>
<circle cx="563.00" cy="894.00" r="3.75" fill="#ff0000"/>
<circle cx="569.50" cy="905.00" r="3.75" fill="#ff0000"/>
<circle cx="575.30" cy="908.80" r="3.75" fill="#ff0000"/>
<circle cx="581.40" cy="889.60" r="3.75" fill="#ff0000"/>
<path d="M67.78 616.15L69.74 611.85M74.32 602.97L75.44 601.03M86.94 590.61L87.30 590.09M92.04 581.36L94.44 575.34M117.16 577.03L118.28 578.97M135.83 564.87L136.33 564.13M141.41 555.55L142.99 552.45M148.07 543.87L148.57 543.13M152.72 543.82L156.16 556.18M160.31 556.87L160.81 556.13M165.89 556.45L167.47 559.55M171.63 568.63L173.97 574.37M184.19 568.92L185.89 565.48M189.79 565.70L192.53 573.30M196.72 573.67L197.84 571.73M202.13 572.07L204.67 578.73M220.55 578.75L222.97 572.65M232.35 555.20L235.99 542.80M239.76 542.41L241.24 545.19M245.08 554.38L248.12 564.22M250.34 573.95L255.26 607.05M256.96 616.91L260.44 634.69M262.37 644.51L266.83 667.09M268.78 676.90L273.02 698.10M275.76 707.68L278.24 714.32M282.39 723.39L283.61 725.61M287.65 734.72L291.35 745.28M294.16 754.86L297.34 768.14M306.52 783.49L308.88 789.91M312.33 799.29L315.27 807.31M319.10 816.54L320.90 820.46M325.91 829.07L326.09 829.33M330.18 838.26L333.82 853.14M350.03 874.98L350.37 875.42M355.46 883.96L357.94 889.44M386.46 887.36L388.74 881.64M392.70 872.46L394.50 868.54M399.37 868.16L399.83 868.84M430.63 876.02L430.97 875.58M441.97 879.60L444.03 884.40M478.73 901.08L480.87 896.52M491.45 887.04L492.55 885.06M498.15 876.82L498.35 876.58M503.99 877.04L505.21 879.16" stroke="#00ff00" stroke-width="1.7" fill="none" stroke-linecap="round"/>
<polygon points="60.90,623.60 70.50,623.60 65.70,615.30" fill="#00ff00"/>
<polygon points="67.02,610.20 76.62,610.20 71.82,601.90" fill="#00ff00"/>
<polygon points="73.14,599.60 82.74,599.60 77.94,591.30" fill="#00ff00"/>
<polygon points="79.26,597.60 88.86,597.60 84.06,589.30" fill="#00ff00"/>
<polygon points="85.38,588.90 94.98,588.90 90.18,580.60" fill="#00ff00"/>
<polygon points="91.50,573.60 101.10,573.60 96.30,565.30" fill="#00ff00"/>
<polygon points="97.62,574.20 107.22,574.20 102.42,565.90" fill="#00ff00"/>
<polygon points="103.74,580.20 113.34,580.20 108.54,571.90" fill="#00ff00"/>
<polygon points="109.86,575.60 119.46,575.60 114.66,567.30" fill="#00ff00"/>
<polygon points="115.98,586.20 125.58,586.20 120.78,577.90" fill="#00ff00"/>
<polygon points="122.10,579.90 131.70,579.90 126.90,571.60" fill="#00ff00"/>
<polygon points="128.22,571.90 137.82,571.90 133.02,563.60" fill="#00ff00"/>
<polygon points="134.34,562.90 143.94,562.90 139.14,554.60" fill="#00ff00"/>
<polygon points="140.46,550.90 150.06,550.90 145.26,542.60" fill="#00ff00"/>
<polygon points="146.58,541.90 156.18,541.90 151.38,533.60" fill="#00ff00"/>
<polygon points="152.70,563.90 162.30,563.90 157.50,555.60" fill="#00ff00"/>
<polygon points="158.82,554.90 168.42,554.90 163.62,546.60" fill="#00ff00"/>
<polygon points="164.94,566.90 174.54,566.90 169.74,558.60" fill="#00ff00"/>
<polygon points="171.06,581.90 180.66,581.90 175.86,573.60" fill="#00ff00"/>
<polygon points="177.18,576.30 186.78,576.30 181.98,568.00" fill="#00ff00"/>
<polygon points="183.30,563.90 192.90,563.90 188.10,555.60" fill="#00ff00"/>
<polygon points="189.42,580.90 199.02,580.90 194.22,572.60" fill="#00ff00"/>
<polygon points="195.54,570.30 205.14,570.30 200.34,562.00" fill="#00ff00"/>
<polygon points="201.66,586.30 211.26,586.30 206.46,578.00" fill="#00ff00"/>
<polygon points="207.78,580.90 217.38,580.90 212.58,572.60" fill="#00ff00"/>
<polygon points="213.90,586.30 223.50,586.30 218.70,578.00" fill="#00ff00"/>
<polygon points="220.02,570.90 229.62,570.90 224.82,562.60" fill="#00ff00"/>
<polygon points="226.14,562.90 235.74,562.90 230.94,554.60" fill="#00ff00"/>
<polygon points="232.60,540.90 242.20,540.90 237.40,532.60" fill="#00ff00"/>
<polygon points="238.80,552.50 248.40,552.50 243.60,544.20" fill="#00ff00"/>
<polygon points="244.80,571.90 254.40,571.90 249.60,563.60" fill="#00ff00"/>
<polygon points="251.20,614.90 260.80,614.90 256.00,606.60" fill="#00ff00"/>
<polygon points="256.60,642.50 266.20,642.50 261.40,634.20" fill="#00ff00"/>
<polygon points="263.00,674.90 272.60,674.90 267.80,666.60" fill="#00ff00"/>
<polygon points="269.20,705.90 278.80,705.90 274.00,697.60" fill="#00ff00"/>
<polygon points="275.20,721.90 284.80,721.90 280.00,713.60" fill="#00ff00"/>
<polygon points="281.20,732.90 290.80,732.90 286.00,724.60" fill="#00ff00"/>
<polygon points="288.20,752.90 297.80,752.90 293.00,744.60" fill="#00ff00"/>
<polygon points="293.70,775.90 303.30,775.90 298.50,767.60" fill="#00ff00"/>
<polygon points="300.00,781.70 309.60,781.70 304.80,773.40" fill="#00ff00"/>
<polygon points="305.80,797.50 315.40,797.50 310.60,789.20" fill="#00ff00"/>
<polygon points="312.20,814.90 321.80,814.90 317.00,806.60" fill="#00ff00"/>
<polygon points="318.20,827.90 327.80,827.90 323.00,819.60" fill="#00ff00"/>
<polygon points="324.20,836.30 333.80,836.30 329.00,828.00" fill="#00ff00"/>
<polygon points="330.20,860.90 339.80,860.90 335.00,852.60" fill="#00ff00"/>
<polygon points="336.20,865.90 345.80,865.90 341.00,857.60" fill="#00ff00"/>
<polygon points="342.20,873.90 351.80,873.90 347.00,865.60" fill="#00ff00"/>
<polygon points="348.60,882.30 358.20,882.30 353.40,874.00" fill="#00ff00"/>
<polygon points="355.20,896.90 364.80,896.90 360.00,888.60" fill="#00ff00"/>
<polygon points="361.20,898.90 370.80,898.90 366.00,890.60" fill="#00ff00"/>
<polygon points="367.20,906.90 376.80,906.90 372.00,898.60" fill="#00ff00"/>
<polygon points="373.80,901.90 383.40,901.90 378.60,893.60" fill="#00ff00"/>
<polygon points="379.80,894.90 389.40,894.90 384.60,886.60" fill="#00ff00"/>
<polygon points="385.80,879.90 395.40,879.90 390.60,871.60" fill="#00ff00"/>
<polygon points="391.80,866.90 401.40,866.90 396.60,858.60" fill="#00ff00"/>
<polygon points="397.80,875.90 407.40,875.90 402.60,867.60" fill="#00ff00"/>
<polygon points="403.80,874.90 413.40,874.90 408.60,866.60" fill="#00ff00"/>
<polygon points="410.20,875.50 419.80,875.50 415.00,867.20" fill="#00ff00"/>
<polygon points="416.20,880.90 425.80,880.90 421.00,872.60" fill="#00ff00"/>
<polygon points="422.80,882.90 432.40,882.90 427.60,874.60" fill="#00ff00"/>
<polygon points="429.20,874.50 438.80,874.50 434.00,866.20" fill="#00ff00"/>
<polygon points="435.20,877.90 444.80,877.90 440.00,869.60" fill="#00ff00"/>
<polygon points="441.20,891.90 450.80,891.90 446.00,883.60" fill="#00ff00"/>
<polygon points="447.70,898.90 457.30,898.90 452.50,890.60" fill="#00ff00"/>
<polygon points="453.60,900.50 463.20,900.50 458.40,892.20" fill="#00ff00"/>
<polygon points="459.90,904.90 469.50,904.90 464.70,896.60" fill="#00ff00"/>
<polygon points="465.60,911.30 475.20,911.30 470.40,903.00" fill="#00ff00"/>
<polygon points="471.80,908.50 481.40,908.50 476.60,900.20" fill="#00ff00"/>
<polygon points="478.20,894.90 487.80,894.90 483.00,886.60" fill="#00ff00"/>
<polygon points="484.20,894.30 493.80,894.30 489.00,886.00" fill="#00ff00"/>
<polygon points="490.20,883.60 499.80,883.60 495.00,875.30" fill="#00ff00"/>
<polygon points="496.70,875.60 506.30,875.60 501.50,867.30" fill="#00ff00"/>
<polygon points="502.90,886.40 512.50,886.40 507.70,878.10" fill="#00ff00"/>
<polygon points="508.90,893.50 518.50,893.50 513.70,885.20" fill="#00ff00"/>
<polygon points="515.20,888.90 524.80,888.90 520.00,880.60" fill="#00ff00"/>
<polygon points="521.20,890.60 530.80,890.60 526.00,882.30" fill="#00ff00"/>
<polygon points="527.20,894.90 536.80,894.90 532.00,886.60" fill="#00ff00"/>
<polygon points="533.50,887.90 543.10,887.90 538.30,879.60" fill="#00ff00"/>
<polygon points="539.20,883.60 548.80,883.60 544.00,875.30" fill="#00ff00"/>
<polygon points="545.20,890.60 554.80,890.60 550.00,882.30" fill="#00ff00"/>
<polygon points="551.90,896.30 561.50,896.30 556.70,888.00" fill="#00ff00"/>
<polygon points="558.20,900.40 567.80,900.40 563.00,892.10" fill="#00ff00"/>
<polygon points="564.70,901.90 574.30,901.90 569.50,893.60" fill="#00ff00"/>
<polygon points="570.50,898.90 580.10,898.90 575.30,890.60" fill="#00ff00"/>
<polygon points="576.60,895.90 586.20,895.90 581.40,887.60" fill="#00ff00"/>
<path d="M209.21 564.78L209.83 565.72M301.03 597.17L302.57 599.93M307.67 608.53L308.63 610.07M312.11 619.23L316.19 644.07M317.54 653.97L322.66 701.03M323.47 710.99L329.13 816.61M329.77 826.59L334.63 891.41" stroke="#0000e8" stroke-width="1.7" fill="none" stroke-linecap="round"/>
<polygon points="60.90,535.40 70.50,535.40 65.70,543.70" fill="#0000ff"/>
<polygon points="67.02,538.80 76.62,538.80 71.82,547.10" fill="#0000ff"/>
<polygon points="73.14,540.80 82.74,540.80 77.94,549.10" fill="#0000ff"/>
<polygon points="79.26,546.10 88.86,546.10 84.06,554.40" fill="#0000ff"/>
<polygon points="85.38,549.40 94.98,549.40 90.18,557.70" fill="#0000ff"/>
<polygon points="91.50,544.10 101.10,544.10 96.30,552.40" fill="#0000ff"/>
<polygon points="97.62,548.10 107.22,548.10 102.42,556.40" fill="#0000ff"/>
<polygon points="103.74,542.80 113.34,542.80 108.54,551.10" fill="#0000ff"/>
<polygon points="109.86,542.10 119.46,542.10 114.66,550.40" fill="#0000ff"/>
<polygon points="115.98,546.80 125.58,546.80 120.78,555.10" fill="#0000ff"/>
<polygon points="122.10,542.10 131.70,542.10 126.90,550.40" fill="#0000ff"/>
<polygon points="128.22,538.10 137.82,538.10 133.02,546.40" fill="#0000ff"/>
<polygon points="134.34,542.10 143.94,542.10 139.14,550.40" fill="#0000ff"/>
<polygon points="140.46,546.10 150.06,546.10 145.26,554.40" fill="#0000ff"/>
<polygon points="146.58,549.10 156.18,549.10 151.38,557.40" fill="#0000ff"/>
<polygon points="152.70,550.10 162.30,550.10 157.50,558.40" fill="#0000ff"/>
<polygon points="158.82,545.10 168.42,545.10 163.62,553.40" fill="#0000ff"/>
<polygon points="164.94,541.70 174.54,541.70 169.74,550.00" fill="#0000ff"/>
<polygon points="171.06,544.70 180.66,544.70 175.86,553.00" fill="#0000ff"/>
<polygon points="177.18,545.00 186.78,545.00 181.98,553.30" fill="#0000ff"/>
<polygon points="183.30,552.30 192.90,552.30 188.10,560.60" fill="#0000ff"/>
<polygon points="189.42,549.70 199.02,549.70 194.22,558.00" fill="#0000ff"/>
<polygon points="195.54,554.10 205.14,554.10 200.34,562.40" fill="#0000ff"/>
<polygon points="201.66,557.70 211.26,557.70 206.46,566.00" fill="#0000ff"/>
<polygon points="207.78,567.00 217.38,567.00 212.58,575.30" fill="#0000ff"/>
<polygon points="213.90,571.70 223.50,571.70 218.70,580.00" fill="#0000ff"/>
<polygon points="220.50,574.40 230.10,574.40 225.30,582.70" fill="#0000ff"/>
<polygon points="226.60,578.50 236.20,578.50 231.40,586.80" fill="#0000ff"/>
<polygon points="232.60,584.50 242.20,584.50 237.40,592.80" fill="#0000ff"/>
<polygon points="238.80,587.50 248.40,587.50 243.60,595.80" fill="#0000ff"/>
<polygon points="244.80,587.50 254.40,587.50 249.60,595.80" fill="#0000ff"/>
<polygon points="251.20,586.50 260.80,586.50 256.00,594.80" fill="#0000ff"/>
<polygon points="257.20,587.50 266.80,587.50 262.00,595.80" fill="#0000ff"/>
<polygon points="263.20,581.50 272.80,581.50 268.00,589.80" fill="#0000ff"/>
<polygon points="269.20,579.90 278.80,579.90 274.00,588.20" fill="#0000ff"/>
<polygon points="275.20,581.50 284.80,581.50 280.00,589.80" fill="#0000ff"/>
<polygon points="281.20,589.50 290.80,589.50 286.00,597.80" fill="#0000ff"/>
<polygon points="287.20,589.90 296.80,589.90 292.00,598.20" fill="#0000ff"/>
<polygon points="293.80,589.90 303.40,589.90 298.60,598.20" fill="#0000ff"/>
<polygon points="300.20,601.40 309.80,601.40 305.00,609.70" fill="#0000ff"/>
<polygon points="306.50,611.40 316.10,611.40 311.30,619.70" fill="#0000ff"/>
<polygon points="312.20,646.10 321.80,646.10 317.00,654.40" fill="#0000ff"/>
<polygon points="318.40,703.10 328.00,703.10 323.20,711.40" fill="#0000ff"/>
<polygon points="324.60,818.70 334.20,818.70 329.40,827.00" fill="#0000ff"/>
<polygon points="330.20,893.50 339.80,893.50 335.00,901.80" fill="#0000ff"/>
<polygon points="336.20,897.50 345.80,897.50 341.00,905.80" fill="#0000ff"/>
<polygon points="342.20,897.50 351.80,897.50 347.00,905.80" fill="#0000ff"/>
<polygon points="348.20,893.50 357.80,893.50 353.00,901.80" fill="#0000ff"/>
<polygon points="354.60,899.50 364.20,899.50 359.40,907.80" fill="#0000ff"/>
<polygon points="361.20,895.10 370.80,895.10 366.00,903.40" fill="#0000ff"/>
<polygon points="367.20,896.50 376.80,896.50 372.00,904.80" fill="#0000ff"/>
<polygon points="373.80,897.10 383.40,897.10 378.60,905.40" fill="#0000ff"/>
<polygon points="379.80,893.10 389.40,893.10 384.60,901.40" fill="#0000ff"/>
<polygon points="385.80,895.50 395.40,895.50 390.60,903.80" fill="#0000ff"/>
<polygon points="391.80,894.50 401.40,894.50 396.60,902.80" fill="#0000ff"/>
<polygon points="397.80,896.50 407.40,896.50 402.60,904.80" fill="#0000ff"/>
<polygon points="403.80,893.50 413.40,893.50 408.60,901.80" fill="#0000ff"/>
<polygon points="410.20,894.50 419.80,894.50 415.00,902.80" fill="#0000ff"/>
<polygon points="416.20,892.50 425.80,892.50 421.00,900.80" fill="#0000ff"/>
<polygon points="422.20,895.50 431.80,895.50 427.00,903.80" fill="#0000ff"/>
<polygon points="428.20,899.50 437.80,899.50 433.00,907.80" fill="#0000ff"/>
<polygon points="434.40,895.19 444.00,895.19 439.20,903.49" fill="#0000ff"/>
<polygon points="440.48,896.84 450.08,896.84 445.28,905.14" fill="#0000ff"/>
<polygon points="446.56,896.77 456.16,896.77 451.36,905.07" fill="#0000ff"/>
<polygon points="452.64,894.51 462.24,894.51 457.44,902.81" fill="#0000ff"/>
<polygon points="458.72,896.19 468.32,896.19 463.52,904.49" fill="#0000ff"/>
<polygon points="464.80,896.48 474.40,896.48 469.60,904.78" fill="#0000ff"/>
<polygon points="470.88,895.92 480.48,895.92 475.68,904.22" fill="#0000ff"/>
<polygon points="476.96,895.46 486.56,895.46 481.76,903.76" fill="#0000ff"/>
<polygon points="483.04,894.72 492.64,894.72 487.84,903.02" fill="#0000ff"/>
<polygon points="489.12,894.89 498.72,894.89 493.92,903.19" fill="#0000ff"/>
<polygon points="495.20,894.53 504.80,894.53 500.00,902.83" fill="#0000ff"/>
<polygon points="501.28,894.02 510.88,894.02 506.08,902.32" fill="#0000ff"/>
<polygon points="507.36,895.68 516.96,895.68 512.16,903.98" fill="#0000ff"/>
<polygon points="513.44,894.72 523.04,894.72 518.24,903.02" fill="#0000ff"/>
<polygon points="519.52,896.39 529.12,896.39 524.32,904.69" fill="#0000ff"/>
<polygon points="525.60,893.94 535.20,893.94 530.40,902.24" fill="#0000ff"/>
<polygon points="531.68,896.69 541.28,896.69 536.48,904.99" fill="#0000ff"/>
<polygon points="537.76,896.02 547.36,896.02 542.56,904.32" fill="#0000ff"/>
<polygon points="543.84,896.76 553.44,896.76 548.64,905.06" fill="#0000ff"/>
<polygon points="549.92,896.67 559.52,896.67 554.72,904.97" fill="#0000ff"/>
<polygon points="556.00,896.68 565.60,896.68 560.80,904.98" fill="#0000ff"/>
<polygon points="562.08,895.65 571.68,895.65 566.88,903.95" fill="#0000ff"/>
<polygon points="568.16,893.84 577.76,893.84 572.96,902.14" fill="#0000ff"/>
<polygon points="574.24,896.18 583.84,896.18 579.04,904.48" fill="#0000ff"/>
<polygon points="580.32,894.35 589.92,894.35 585.12,902.65" fill="#0000ff"/>
</g>
<rect x="63.9" y="501.4" width="522.1" height="417.5" fill="none" stroke="#000" stroke-width="1.9"/>
<line x1="54.90" y1="900.50" x2="63.90" y2="900.50" stroke="#000" stroke-width="1.8" stroke-linecap="butt"/>
<line x1="586.00" y1="900.50" x2="595.00" y2="900.50" stroke="#000" stroke-width="1.8" stroke-linecap="butt"/>
<text x="49.4" y="904.40" font-size="16" text-anchor="end">0.0</text>
<line x1="59.30" y1="864.25" x2="63.90" y2="864.25" stroke="#000" stroke-width="1.25" stroke-linecap="butt"/>
<line x1="586.00" y1="864.25" x2="590.60" y2="864.25" stroke="#000" stroke-width="1.25" stroke-linecap="butt"/>
<line x1="54.90" y1="828.00" x2="63.90" y2="828.00" stroke="#000" stroke-width="1.8" stroke-linecap="butt"/>
<line x1="586.00" y1="828.00" x2="595.00" y2="828.00" stroke="#000" stroke-width="1.8" stroke-linecap="butt"/>
<text x="49.4" y="831.90" font-size="16" text-anchor="end">0.2</text>
<line x1="59.30" y1="791.75" x2="63.90" y2="791.75" stroke="#000" stroke-width="1.25" stroke-linecap="butt"/>
<line x1="586.00" y1="791.75" x2="590.60" y2="791.75" stroke="#000" stroke-width="1.25" stroke-linecap="butt"/>
<line x1="54.90" y1="755.50" x2="63.90" y2="755.50" stroke="#000" stroke-width="1.8" stroke-linecap="butt"/>
<line x1="586.00" y1="755.50" x2="595.00" y2="755.50" stroke="#000" stroke-width="1.8" stroke-linecap="butt"/>
<text x="49.4" y="759.40" font-size="16" text-anchor="end">0.4</text>
<line x1="59.30" y1="719.25" x2="63.90" y2="719.25" stroke="#000" stroke-width="1.25" stroke-linecap="butt"/>
<line x1="586.00" y1="719.25" x2="590.60" y2="719.25" stroke="#000" stroke-width="1.25" stroke-linecap="butt"/>
<line x1="54.90" y1="683.00" x2="63.90" y2="683.00" stroke="#000" stroke-width="1.8" stroke-linecap="butt"/>
<line x1="586.00" y1="683.00" x2="595.00" y2="683.00" stroke="#000" stroke-width="1.8" stroke-linecap="butt"/>
<text x="49.4" y="686.90" font-size="16" text-anchor="end">0.6</text>
<line x1="59.30" y1="646.75" x2="63.90" y2="646.75" stroke="#000" stroke-width="1.25" stroke-linecap="butt"/>
<line x1="586.00" y1="646.75" x2="590.60" y2="646.75" stroke="#000" stroke-width="1.25" stroke-linecap="butt"/>
<line x1="54.90" y1="610.50" x2="63.90" y2="610.50" stroke="#000" stroke-width="1.8" stroke-linecap="butt"/>
<line x1="586.00" y1="610.50" x2="595.00" y2="610.50" stroke="#000" stroke-width="1.8" stroke-linecap="butt"/>
<text x="49.4" y="614.40" font-size="16" text-anchor="end">0.8</text>
<line x1="59.30" y1="574.25" x2="63.90" y2="574.25" stroke="#000" stroke-width="1.25" stroke-linecap="butt"/>
<line x1="586.00" y1="574.25" x2="590.60" y2="574.25" stroke="#000" stroke-width="1.25" stroke-linecap="butt"/>
<line x1="54.90" y1="538.00" x2="63.90" y2="538.00" stroke="#000" stroke-width="1.8" stroke-linecap="butt"/>
<line x1="586.00" y1="538.00" x2="595.00" y2="538.00" stroke="#000" stroke-width="1.8" stroke-linecap="butt"/>
<text x="49.4" y="541.90" font-size="16" text-anchor="end">1.0</text>
<line x1="59.30" y1="501.75" x2="63.90" y2="501.75" stroke="#000" stroke-width="1.25" stroke-linecap="butt"/>
<line x1="586.00" y1="501.75" x2="590.60" y2="501.75" stroke="#000" stroke-width="1.25" stroke-linecap="butt"/>
<line x1="86.93" y1="501.40" x2="86.93" y2="496.80" stroke="#000" stroke-width="1.25" stroke-linecap="butt"/>
<line x1="86.93" y1="918.90" x2="86.93" y2="923.20" stroke="#000" stroke-width="1.25" stroke-linecap="butt"/>
<line x1="125.32" y1="501.40" x2="125.32" y2="492.80" stroke="#000" stroke-width="1.8" stroke-linecap="butt"/>
<line x1="125.32" y1="918.90" x2="125.32" y2="927.50" stroke="#000" stroke-width="1.8" stroke-linecap="butt"/>
<line x1="163.71" y1="501.40" x2="163.71" y2="496.80" stroke="#000" stroke-width="1.25" stroke-linecap="butt"/>
<line x1="163.71" y1="918.90" x2="163.71" y2="923.20" stroke="#000" stroke-width="1.25" stroke-linecap="butt"/>
<line x1="202.10" y1="501.40" x2="202.10" y2="492.80" stroke="#000" stroke-width="1.8" stroke-linecap="butt"/>
<line x1="202.10" y1="918.90" x2="202.10" y2="927.50" stroke="#000" stroke-width="1.8" stroke-linecap="butt"/>
<line x1="240.49" y1="501.40" x2="240.49" y2="496.80" stroke="#000" stroke-width="1.25" stroke-linecap="butt"/>
<line x1="240.49" y1="918.90" x2="240.49" y2="923.20" stroke="#000" stroke-width="1.25" stroke-linecap="butt"/>
<line x1="278.88" y1="501.40" x2="278.88" y2="492.80" stroke="#000" stroke-width="1.8" stroke-linecap="butt"/>
<line x1="278.88" y1="918.90" x2="278.88" y2="927.50" stroke="#000" stroke-width="1.8" stroke-linecap="butt"/>
<line x1="317.27" y1="501.40" x2="317.27" y2="496.80" stroke="#000" stroke-width="1.25" stroke-linecap="butt"/>
<line x1="317.27" y1="918.90" x2="317.27" y2="923.20" stroke="#000" stroke-width="1.25" stroke-linecap="butt"/>
<line x1="355.66" y1="501.40" x2="355.66" y2="492.80" stroke="#000" stroke-width="1.8" stroke-linecap="butt"/>
<line x1="355.66" y1="918.90" x2="355.66" y2="927.50" stroke="#000" stroke-width="1.8" stroke-linecap="butt"/>
<line x1="394.05" y1="501.40" x2="394.05" y2="496.80" stroke="#000" stroke-width="1.25" stroke-linecap="butt"/>
<line x1="394.05" y1="918.90" x2="394.05" y2="923.20" stroke="#000" stroke-width="1.25" stroke-linecap="butt"/>
<line x1="432.44" y1="501.40" x2="432.44" y2="492.80" stroke="#000" stroke-width="1.8" stroke-linecap="butt"/>
<line x1="432.44" y1="918.90" x2="432.44" y2="927.50" stroke="#000" stroke-width="1.8" stroke-linecap="butt"/>
<line x1="470.83" y1="501.40" x2="470.83" y2="496.80" stroke="#000" stroke-width="1.25" stroke-linecap="butt"/>
<line x1="470.83" y1="918.90" x2="470.83" y2="923.20" stroke="#000" stroke-width="1.25" stroke-linecap="butt"/>
<line x1="509.22" y1="501.40" x2="509.22" y2="492.80" stroke="#000" stroke-width="1.8" stroke-linecap="butt"/>
<line x1="509.22" y1="918.90" x2="509.22" y2="927.50" stroke="#000" stroke-width="1.8" stroke-linecap="butt"/>
<line x1="547.61" y1="501.40" x2="547.61" y2="496.80" stroke="#000" stroke-width="1.25" stroke-linecap="butt"/>
<line x1="547.61" y1="918.90" x2="547.61" y2="923.20" stroke="#000" stroke-width="1.25" stroke-linecap="butt"/>
<line x1="586.00" y1="501.40" x2="586.00" y2="492.80" stroke="#000" stroke-width="1.8" stroke-linecap="butt"/>
<line x1="586.00" y1="918.90" x2="586.00" y2="927.50" stroke="#000" stroke-width="1.8" stroke-linecap="butt"/>
<line x1="63.90" y1="918.90" x2="63.90" y2="927.50" stroke="#000" stroke-width="1.9" stroke-linecap="butt"/>
<text x="63.90" y="945.10" font-size="16" text-anchor="middle" >5</text>
<text x="125.32" y="945.10" font-size="16" text-anchor="middle" >25</text>
<text x="202.10" y="945.10" font-size="16" text-anchor="middle" >50</text>
<text x="278.88" y="945.10" font-size="16" text-anchor="middle" >75</text>
<text x="355.66" y="945.10" font-size="16" text-anchor="middle" >100</text>
<text x="432.44" y="945.10" font-size="16" text-anchor="middle" >125</text>
<text x="509.22" y="945.10" font-size="16" text-anchor="middle" >150</text>
<text x="586.00" y="945.10" font-size="16" text-anchor="middle" >175</text>
<text transform="translate(15.5,713.3) rotate(-90)" font-size="20.25" text-anchor="middle">Normalized Band Area</text>
<line x1="337.60" y1="529.70" x2="384.40" y2="529.70" stroke="#000000" stroke-width="2.0" stroke-linecap="round"/>
<rect x="356.10" y="527.7" width="9.8" height="4" fill="#fff"/>
<rect x="357.40" y="526.10" width="7.20" height="7.20" fill="#000000"/>
<text x="389.78" y="536.10" font-size="20.0">CO (</text>
<text x="431.65" y="536.10" font-size="20.0" font-family='"Liberation Serif", serif'>ν</text>
<text x="442.42" y="544.40" font-size="11.5">1</text>
<text x="453.85" y="536.10" font-size="20.0">at 2140</text>
<text x="527.45" y="536.10" font-size="20.0">cm</text>
<text x="554.51" y="526.80" font-size="11.0">-1</text>
<text x="566.58" y="536.10" font-size="20.0">)</text>
<line x1="337.60" y1="565.70" x2="384.40" y2="565.70" stroke="#e00000" stroke-width="2.0" stroke-linecap="round"/>
<rect x="356.10" y="563.7" width="9.8" height="4" fill="#fff"/>
<circle cx="361.00" cy="565.70" r="3.75" fill="#ff0000"/>
<text x="389.78" y="572.10" font-size="20.0">CO</text>
<text x="419.56" y="580.40" font-size="11.5">3</text>
<text x="428.46" y="572.10" font-size="20.0">(</text>
<text x="435.75" y="572.10" font-size="20.0" font-family='"Liberation Serif", serif'>ν</text>
<text x="446.62" y="580.40" font-size="11.5">1</text>
<text x="457.85" y="572.10" font-size="20.0">at 2044</text>
<text x="531.65" y="572.10" font-size="20.0">cm</text>
<text x="558.71" y="562.80" font-size="11.0">-1</text>
<text x="570.68" y="572.10" font-size="20.0">)</text>
<line x1="337.60" y1="601.60" x2="384.40" y2="601.60" stroke="#00ff00" stroke-width="2.0" stroke-linecap="round"/>
<rect x="356.10" y="599.6" width="9.8" height="4" fill="#fff"/>
<polygon points="356.20,604.50 365.80,604.50 361.00,596.20" fill="#00ff00"/>
<text x="389.45" y="608.00" font-size="20.0">O</text>
<text x="405.36" y="616.30" font-size="11.5">3</text>
<text x="414.26" y="608.00" font-size="20.0">(</text>
<text x="421.65" y="608.00" font-size="20.0" font-family='"Liberation Serif", serif'>ν</text>
<text x="431.56" y="616.30" font-size="11.5">3</text>
<text x="443.85" y="608.00" font-size="20.0">at 1048</text>
<text x="517.15" y="608.00" font-size="20.0">cm</text>
<text x="544.21" y="598.70" font-size="11.0">-1</text>
<text x="556.18" y="608.00" font-size="20.0">)</text>
<line x1="337.60" y1="637.50" x2="384.40" y2="637.50" stroke="#0000e8" stroke-width="2.0" stroke-linecap="round"/>
<rect x="356.10" y="635.5" width="9.8" height="4" fill="#fff"/>
<polygon points="356.20,634.60 365.80,634.60 361.00,642.90" fill="#0000ff"/>
<text x="389.78" y="643.90" font-size="20.0">CO</text>
<text x="419.42" y="652.20" font-size="11.5">2</text>
<text x="428.46" y="643.90" font-size="20.0">(</text>
<text x="435.75" y="643.90" font-size="20.0" font-family='"Liberation Serif", serif'>ν</text>
<text x="445.86" y="652.20" font-size="11.5">3</text>
<text x="457.85" y="643.90" font-size="20.0">at 2340</text>
<text x="531.65" y="643.90" font-size="20.0">cm</text>
<text x="558.71" y="634.60" font-size="11.0">-1</text>
<text x="570.68" y="643.90" font-size="20.0">)</text>
<text x="251.54" y="478.00" font-size="20.0" textLength="149.22" lengthAdjust="spacingAndGlyphs">Temperature (K)</text>
<text x="250.14" y="968.30" font-size="20.0" textLength="149.93" lengthAdjust="spacingAndGlyphs">Temperature (K)</text>
</svg>
</body></html>
